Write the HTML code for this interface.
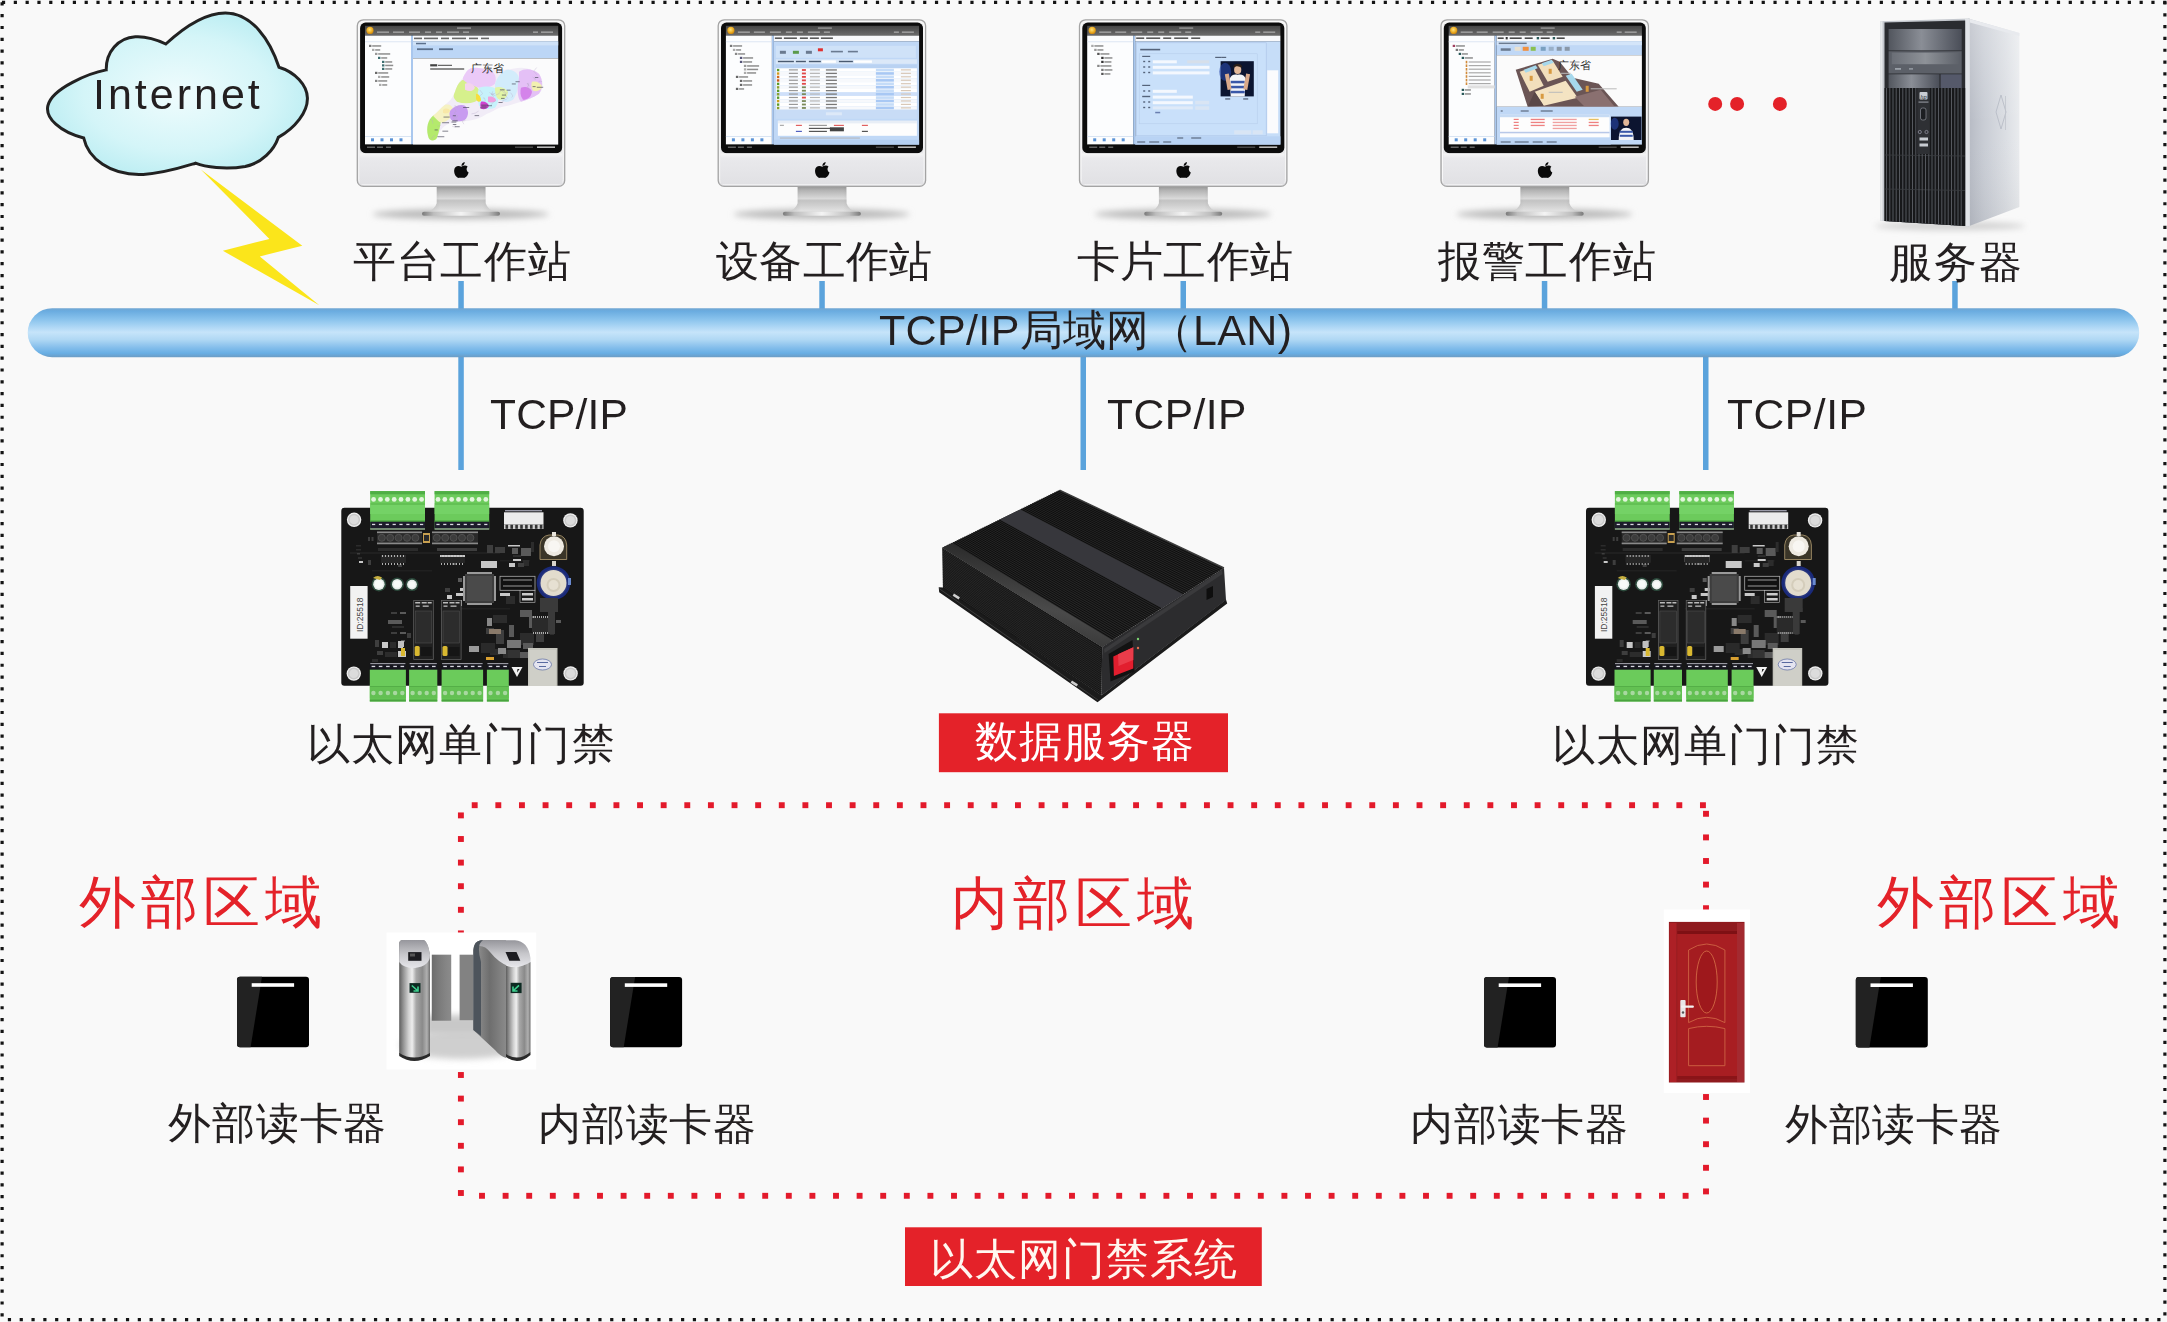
<!DOCTYPE html>
<html><head><meta charset="utf-8">
<style>
html,body{margin:0;padding:0;}
body{width:2167px;height:1322px;overflow:hidden;background:#f9f9f9;position:relative;font-family:"Liberation Sans",sans-serif;color:#231f20;}
svg.main{position:absolute;left:0;top:0;}
.t{position:absolute;white-space:nowrap;line-height:1;will-change:transform;}
.lb{font-size:43px;}
.tcp{font-size:42.5px;letter-spacing:0.2px;}
.red{color:#e42229;font-size:57px;letter-spacing:4.9px;}
</style></head>
<body>
<svg class="main" width="2167" height="1322" viewBox="0 0 2167 1322">
<defs>
  <linearGradient id="lan" x1="0" y1="0" x2="0" y2="1">
    <stop offset="0" stop-color="#72a6d2"/>
    <stop offset="0.06" stop-color="#6aace0"/>
    <stop offset="0.22" stop-color="#88c2ec"/>
    <stop offset="0.36" stop-color="#a8d4f4"/>
    <stop offset="0.49" stop-color="#c6e4fa"/>
    <stop offset="0.64" stop-color="#b0d8f4"/>
    <stop offset="0.79" stop-color="#88c0ec"/>
    <stop offset="0.92" stop-color="#68aee4"/>
    <stop offset="1" stop-color="#6c9cc4"/>
  </linearGradient>
  <radialGradient id="cloudg" cx="0.5" cy="0.5" r="0.6">
    <stop offset="0" stop-color="#effcfd"/>
    <stop offset="0.6" stop-color="#d4f5f8"/>
    <stop offset="1" stop-color="#b4ebf1"/>
  </radialGradient>
  <linearGradient id="titleg" x1="0" y1="0" x2="0" y2="1"><stop offset="0" stop-color="#454545"/><stop offset="1" stop-color="#6c6c6c"/></linearGradient>
  <radialGradient id="orb" cx="0.45" cy="0.4" r="0.6"><stop offset="0" stop-color="#ffe27a"/><stop offset="0.7" stop-color="#e9a71c"/><stop offset="1" stop-color="#c98412"/></radialGradient>
  <linearGradient id="framev" x1="0" y1="0" x2="0" y2="1"><stop offset="0" stop-color="#f3f3f3"/><stop offset="0.8" stop-color="#e6e6e8"/><stop offset="1" stop-color="#dedee1"/></linearGradient>
  <linearGradient id="chin" x1="0" y1="0" x2="0" y2="1"><stop offset="0" stop-color="#f6f6f6"/><stop offset="0.15" stop-color="#e9e9ec"/><stop offset="1" stop-color="#e1e1e4"/></linearGradient>
  <linearGradient id="neck" x1="0" y1="0" x2="0" y2="1"><stop offset="0" stop-color="#8e8e8e"/><stop offset="0.2" stop-color="#b4b4b4"/><stop offset="0.5" stop-color="#d9d9d9"/><stop offset="0.58" stop-color="#c3c3c3"/><stop offset="0.75" stop-color="#cfcfcf"/><stop offset="1" stop-color="#e4e4e4"/></linearGradient>
  <linearGradient id="neckh" x1="0" y1="0" x2="1" y2="0"><stop offset="0" stop-color="#000" stop-opacity="0.12"/><stop offset="0.2" stop-color="#000" stop-opacity="0"/><stop offset="0.8" stop-color="#000" stop-opacity="0"/><stop offset="1" stop-color="#000" stop-opacity="0.12"/></linearGradient>
  <linearGradient id="base" x1="0" y1="0" x2="1" y2="0"><stop offset="0" stop-color="#7a7a7a"/><stop offset="0.15" stop-color="#bdbdbd"/><stop offset="0.5" stop-color="#f4f4f4"/><stop offset="0.85" stop-color="#bdbdbd"/><stop offset="1" stop-color="#7a7a7a"/></linearGradient>
  <filter id="blur3" x="-20%" y="-100%" width="140%" height="300%"><feGaussianBlur stdDeviation="3"/></filter>
  <filter id="blur1" x="-20%" y="-20%" width="140%" height="140%"><feGaussianBlur stdDeviation="1"/></filter>
  <symbol id="imac" overflow="visible">
    <ellipse cx="104" cy="195" rx="88" ry="5" fill="#b9b9b9" filter="url(#blur3)"/>
    <path d="M80,166 L128.8,166 L129,184 Q131,191 139.5,192.6 L69.5,192.6 Q78,191 80,184 Z" fill="url(#neck)"/>
    <path d="M80,166 L128.8,166 L129,184 Q131,191 139.5,192.6 L69.5,192.6 Q78,191 80,184 Z" fill="url(#neckh)"/>
    <rect x="65.3" y="192.6" width="78" height="4" rx="2" fill="url(#base)"/>
    <rect x="0.6" y="0.6" width="207.4" height="166.6" rx="6" fill="url(#framev)" stroke="#a4a4a4" stroke-width="1.3"/>
    <rect x="2.2" y="2.2" width="204.2" height="163.2" rx="5" fill="none" stroke="#fbfbfb" stroke-width="1"/>
    <rect x="3.4" y="3.4" width="202" height="130.6" rx="5.5" fill="#0c0c0c"/>
    <rect x="3" y="134.2" width="202.6" height="31" fill="url(#chin)"/>
    <path transform="translate(104.6,151) scale(1.05)" d="M0,-3.2 C-2,-4.8 -6.4,-4.6 -6.8,0 C-7.1,4.2 -4.2,7.6 -2.2,7.3 C-1,7.1 1,7.1 2.2,7.3 C4.2,7.6 6.6,4.6 6.9,2 C5,1.2 4.4,-2 6.1,-3.3 C4.5,-5 2,-4.6 0,-3.2 Z M0.2,-4 C0,-6 1.6,-7.6 3.3,-7.8 C3.3,-5.8 1.9,-4.3 0.2,-4 Z" fill="#0a0a0a"/>
  </symbol>
  <linearGradient id="boxedge" x1="0" y1="1" x2="0.3" y2="0"><stop offset="0" stop-color="#2a2a2a"/><stop offset="0.5" stop-color="#4a4a4a"/><stop offset="1" stop-color="#262626"/></linearGradient>
  <linearGradient id="towerside" x1="0" y1="0" x2="1" y2="0"><stop offset="0" stop-color="#b6bac3"/><stop offset="0.3" stop-color="#c8ccd4"/><stop offset="0.75" stop-color="#dcdfe4"/><stop offset="1" stop-color="#e9ebee"/></linearGradient><linearGradient id="towersidev" x1="0" y1="0" x2="0" y2="1"><stop offset="0" stop-color="#fff" stop-opacity="0.25"/><stop offset="0.5" stop-color="#fff" stop-opacity="0"/><stop offset="1" stop-color="#000" stop-opacity="0.05"/></linearGradient>
  <linearGradient id="bay" x1="0" y1="0" x2="1" y2="0"><stop offset="0" stop-color="#52565e"/><stop offset="0.45" stop-color="#8a8e96"/><stop offset="1" stop-color="#4a4e58"/></linearGradient>
  <linearGradient id="bay2" x1="0" y1="0" x2="1" y2="0"><stop offset="0" stop-color="#6a6e76"/><stop offset="0.5" stop-color="#8e9298"/><stop offset="1" stop-color="#5e626a"/></linearGradient>
  <linearGradient id="cyl" x1="0" y1="0" x2="1" y2="0"><stop offset="0" stop-color="#5e5e5e"/><stop offset="0.12" stop-color="#8e8e8e"/><stop offset="0.3" stop-color="#cfcfcf"/><stop offset="0.42" stop-color="#eeeeee"/><stop offset="0.55" stop-color="#a8a8a8"/><stop offset="0.75" stop-color="#8a8a8a"/><stop offset="0.9" stop-color="#b0b0b0"/><stop offset="1" stop-color="#6e6e6e"/></linearGradient>
  <linearGradient id="pillarR" x1="0" y1="0" x2="1" y2="0"><stop offset="0" stop-color="#9a9a9a"/><stop offset="0.3" stop-color="#7e7e7e"/><stop offset="0.5" stop-color="#6e6e6e"/><stop offset="1" stop-color="#8a8a8a"/></linearGradient>
  <linearGradient id="capg" x1="0" y1="0" x2="0" y2="1"><stop offset="0" stop-color="#96969c"/><stop offset="0.5" stop-color="#c6c6ca"/><stop offset="1" stop-color="#e6e6ea"/></linearGradient>
  <linearGradient id="flapg" x1="0" y1="0" x2="1" y2="0"><stop offset="0" stop-color="#000" stop-opacity="0.15"/><stop offset="1" stop-color="#fff" stop-opacity="0.1"/></linearGradient>
</defs>
<!-- outer dotted border -->
<g stroke="#141414" stroke-width="3.2" stroke-dasharray="3.2 8.61">
<line x1="1.95" y1="2.4" x2="2167" y2="2.4"/>
<line x1="7.85" y1="1319.6" x2="2167" y2="1319.6"/>
<line x1="2.1" y1="2.3" x2="2.1" y2="1322"/>
<line x1="2164.9" y1="1.4" x2="2164.9" y2="1322"/>
</g>

<!-- cloud -->
<path d="M106.2,69.9 C90,73 52,88 47.9,105.6 C45,118 60,132 83.7,138 C88,158 110,176 143.3,174.4 C165,173 183,167 195.5,163.2 C205,167 225,170 245.2,166.5 C262,163 274,150 278.3,137.4 C295,128 308,112 307.4,97.7 C307,85 295,72 279,67.2 C270,40 252,13 225.3,12.9 C205,13 183,28 165.8,44 C158,40 145,36 135.3,36.8 C118,38 106,52 106.2,69.9 Z" fill="url(#cloudg)" stroke="#222" stroke-width="3"/>

<!-- lightning -->
<polygon points="200.8,169.6 302.3,245.7 259.8,256.4 319.3,305.2 222.9,250.8 269.4,238.9" fill="#fbe51b"/>

<!-- connectors top -->
<g fill="#5ba3dc">
  <rect x="458.3" y="281" width="5.5" height="30"/>
  <rect x="819.3" y="281" width="5.5" height="30"/>
  <rect x="1180.5" y="281" width="5.5" height="30"/>
  <rect x="1541.8" y="281" width="5.5" height="30"/>
  <rect x="1952.2" y="281" width="5.5" height="30"/>
  <rect x="458.3" y="352" width="5.5" height="118"/>
  <rect x="1080.5" y="352" width="5.5" height="118"/>
  <rect x="1703" y="352" width="5.5" height="118"/>
</g>
<!-- LAN bar -->
<rect x="27.7" y="308.2" width="2111.5" height="49" rx="24.5" fill="url(#lan)"/>

<!-- monitors -->
<g transform="translate(356.7,19.2)"><use href="#imac"/><g transform="translate(8.3,6.6)"><rect x="0" y="0" width="193.2" height="9.8" fill="url(#titleg)"/>
<circle cx="5" cy="4.6" r="3.6" fill="url(#orb)"/>
<g fill="#a9a9a9" opacity="0.8"><rect x="12" y="5.6" width="12" height="1.6"/><rect x="28" y="5.6" width="11" height="1.6"/><rect x="44" y="5.6" width="11" height="1.6"/><rect x="60" y="5.6" width="6" height="1.6"/><rect x="71" y="5.6" width="6" height="1.6"/><rect x="82" y="5.6" width="12" height="1.6"/><rect x="98" y="5.6" width="6" height="1.6"/><rect x="168" y="5.6" width="5" height="1.6"/><rect x="176" y="5.6" width="12" height="1.6"/><rect x="92" y="1.6" width="14" height="1.4"/></g>
<rect x="0" y="9.8" width="46" height="109" fill="#fcfdfe"/>
<rect x="0" y="15.6" width="46" height="0.8" fill="#d6e2f0"/>
<rect x="46" y="9.8" width="2" height="109" fill="#a9c7ee"/>
<rect x="0" y="110.2" width="46" height="0.7" fill="#c9d9ee"/>
<g fill="#5b93d6"><rect x="6" y="112.5" width="3" height="3"/><rect x="15.5" y="112.5" width="3" height="3"/><rect x="25" y="112.5" width="3" height="3"/><rect x="34.5" y="112.5" width="3" height="3"/></g>
<rect x="0" y="118.8" width="193.2" height="5.8" fill="#0b0b0b"/>
<g fill="#777"><rect x="2" y="120.8" width="8" height="1.2"/><rect x="12" y="120.8" width="6" height="1.2"/><rect x="21" y="120.8" width="5" height="1.2"/><rect x="150" y="120.8" width="18" height="1.2" fill="#555"/><rect x="172" y="120.6" width="18" height="1.6" fill="#bbb"/></g>
<rect x="4" y="19" width="2.4" height="2.2" fill="#777"/><rect x="7.2" y="19.4" width="9" height="1.5" fill="#8e8e8e"/><rect x="7" y="23" width="2.4" height="2.2" fill="#aaa"/><rect x="10.2" y="23.4" width="5" height="1.5" fill="#8e8e8e"/><rect x="10" y="27" width="2.4" height="2.2" fill="#999"/><rect x="13.2" y="27.4" width="12" height="1.5" fill="#8e8e8e"/><rect x="13" y="31" width="2.4" height="2.2" fill="#3c6e70"/><rect x="16.2" y="31.4" width="6" height="1.5" fill="#8e8e8e"/><rect x="17" y="35" width="2.4" height="2.2" fill="#3c6e70"/><rect x="20.2" y="35.4" width="7" height="1.5" fill="#8e8e8e"/><rect x="17" y="38.5" width="2.4" height="2.2" fill="#3c6e70"/><rect x="20.2" y="38.9" width="8" height="1.5" fill="#8e8e8e"/><rect x="17" y="42" width="2.4" height="2.2" fill="#3c6e70"/><rect x="20.2" y="42.4" width="7" height="1.5" fill="#8e8e8e"/><rect x="10" y="46" width="2.4" height="2.2" fill="#6a6a6a"/><rect x="13.2" y="46.4" width="10" height="1.5" fill="#8e8e8e"/><rect x="13" y="50" width="2.4" height="2.2" fill="#aaa"/><rect x="16.2" y="50.4" width="8" height="1.5" fill="#8e8e8e"/><rect x="10" y="54" width="2.4" height="2.2" fill="#888"/><rect x="13.2" y="54.4" width="9" height="1.5" fill="#8e8e8e"/><rect x="14" y="58" width="2.4" height="2.2" fill="#aaa"/><rect x="17.2" y="58.4" width="5" height="1.5" fill="#8e8e8e"/><rect x="48" y="9.8" width="145.2" height="5.8" fill="#f8f9fb"/>
<g fill="#6a6a6a"><rect x="49" y="11.8" width="8" height="1.6"/><rect x="59" y="11.8" width="14" height="1.6"/><rect x="76" y="11.8" width="8" height="1.6"/><rect x="87" y="11.8" width="14" height="1.6"/><rect x="104" y="11.8" width="9" height="1.6"/><rect x="116" y="11.8" width="8" height="1.6"/></g>
<rect x="48" y="15.6" width="145.2" height="17" fill="#bcd6f6"/>
<rect x="48" y="15.6" width="145.2" height="4" fill="#cfe2f8"/>
<g fill="#5b6f8c"><rect x="51" y="17" width="10" height="1.5"/><rect x="52" y="22.5" width="16" height="1.8"/><rect x="74" y="22.5" width="14" height="1.8"/></g>
<rect x="48" y="32.6" width="145.2" height="86.2" fill="#fbfbfc"/>
<g fill="#444"><rect x="65.2" y="38.4" width="7" height="2.2"/><rect x="73" y="39" width="14" height="1"/><rect x="65.2" y="42.6" width="34" height="1.2"/></g>
<path d="M63,110 C61,102 63,94 68,90 C72,87 76,82 80,79 C84,76 88,72 90,66 C92,60 94,56 98,52 C100,48 102,44 106,42.5 C112,41 118,43 124,44 C130,44 134,43 140,44 C146,44 150,42 156,42 C164,42 172,46 176,52 C179,58 178,64 174,68 C168,72 162,74 156,76 C150,78 144,80 138,81 C132,82 128,86 122,88 C116,92 110,94 104,95 C96,96 90,96 84,98 C78,100 74,106 72,112 C70,116 64,116 63,110 Z" fill="#f1ecf7"/>
<path d="M63,110 C61,102 63,94 68,90 C72,88 75,88 76,92 C76,98 74,106 72,112 C70,116 64,116 63,110 Z" fill="#b4ea6c"/><path d="M68,90 C72,87 76,82 80,79 C84,78 88,80 88,84 C88,90 84,94 80,96 C76,98 74,96 72,94 Z" fill="#f6f2c2"/><path d="M86,84 C90,80 96,78 100,80 C104,84 104,90 100,94 C96,96 90,96 86,94 C84,90 84,86 86,84 Z" fill="#c89cf0"/><path d="M90,66 C92,60 94,56 98,54 C104,54 110,58 114,64 C116,70 114,74 110,76 C104,78 98,78 92,76 C88,72 88,70 90,66 Z" fill="#d6f08c"/><path d="M98,52 C100,48 102,44 106,42.5 C112,41 118,43 124,44 C130,46 132,52 130,58 C126,62 120,62 114,62 C108,60 102,58 98,54 Z" fill="#ebcaf8"/><path d="M114,62 C120,60 128,60 132,64 C134,70 134,78 130,82 C124,84 118,84 114,80 C112,74 112,68 114,62 Z" fill="#c6f2fb"/><path d="M130,58 C132,52 136,46 142,44 C148,44 152,46 154,52 C154,60 152,68 148,74 C142,78 136,76 132,72 C130,66 130,62 130,58 Z" fill="#d2ecfb"/><path d="M130,62 C134,60 140,62 143,66 C143,70 140,74 136,74 C132,74 130,70 130,62 Z" fill="#e2f5a6"/><path d="M154,46 C160,42 168,43 174,48 C178,54 178,62 174,68 C168,72 162,74 156,76 C152,72 152,62 154,52 Z" fill="#e4c0f6"/><path d="M156,62 C160,60 166,62 167,66 C166,72 162,74 158,74 C155,70 155,66 156,62 Z" fill="#d483ea"/><path d="M167,56 C171,55 176,57 177,61 C176,65 172,66 168,65 C166,62 166,58 167,56 Z" fill="#f2f0b0"/><path d="M116,76 C119,75 123,77 124,80 C123,83 119,84 116,83 C115,81 115,78 116,76 Z" fill="#d042cf"/><path d="M123,71 C127,70 131,72 131,75 C129,77 125,77 123,76 Z" fill="#f0a2e0"/><path d="M111,68 C114,68 116,71 116,75 C114,77 112,76 111,73 Z" fill="#f6de3c"/><path d="M100,58 C104,56 108,58 110,62 C108,66 104,66 100,64 Z" fill="#f4d4ee"/><path d="M78,84 C80,82 84,82 85,85 C84,88 80,88 78,87 Z" fill="#f8e8a8"/>
<path d="M89.0,87.4 l3.8,2.4 l-1.6,3.1" stroke="#b8a8c8" stroke-width="0.35" fill="none"/><path d="M88.8,89.7 l2.8,1.1 l-3.2,3.9" stroke="#b8a8c8" stroke-width="0.35" fill="none"/><path d="M89.0,87.1 l2.2,-1.4 l-1.6,-3.4" stroke="#b8a8c8" stroke-width="0.35" fill="none"/><path d="M75.7,99.6 l-2.1,0.8 l-1.0,-0.4" stroke="#b8a8c8" stroke-width="0.35" fill="none"/><path d="M169.6,50.9 l0.6,2.9 l-2.5,-2.8" stroke="#b8a8c8" stroke-width="0.35" fill="none"/><path d="M164.1,59.7 l-2.0,-2.5 l1.9,3.5" stroke="#b8a8c8" stroke-width="0.35" fill="none"/><path d="M87.2,100.5 l3.1,0.8 l-0.6,-3.2" stroke="#b8a8c8" stroke-width="0.35" fill="none"/><path d="M70.2,109.2 l-2.1,1.6 l-1.9,2.6" stroke="#b8a8c8" stroke-width="0.35" fill="none"/><path d="M130.4,67.1 l-2.6,1.8 l-3.4,-2.2" stroke="#b8a8c8" stroke-width="0.35" fill="none"/><path d="M126.4,79.1 l0.9,-1.8 l3.3,-2.4" stroke="#b8a8c8" stroke-width="0.35" fill="none"/><path d="M67.8,98.0 l-0.4,-3.5 l-2.6,-1.0" stroke="#b8a8c8" stroke-width="0.35" fill="none"/><path d="M127.8,65.5 l-1.1,3.1 l3.8,1.3" stroke="#b8a8c8" stroke-width="0.35" fill="none"/><path d="M140.7,67.2 l-2.9,-3.7 l-3.9,3.3" stroke="#b8a8c8" stroke-width="0.35" fill="none"/><path d="M141.7,73.5 l-3.8,1.1 l-0.1,1.8" stroke="#b8a8c8" stroke-width="0.35" fill="none"/><path d="M100.4,94.8 l-3.4,0.4 l1.9,3.2" stroke="#b8a8c8" stroke-width="0.35" fill="none"/><path d="M145.6,66.9 l2.3,3.3 l-1.2,1.5" stroke="#b8a8c8" stroke-width="0.35" fill="none"/><path d="M163.3,61.0 l-0.7,2.3 l2.9,0.6" stroke="#b8a8c8" stroke-width="0.35" fill="none"/><path d="M133.5,67.1 l0.7,0.9 l-3.4,1.1" stroke="#b8a8c8" stroke-width="0.35" fill="none"/><path d="M173.3,56.2 l1.8,-0.9 l1.9,0.6" stroke="#b8a8c8" stroke-width="0.35" fill="none"/><path d="M113.6,85.3 l-3.3,2.0 l-3.8,0.8" stroke="#b8a8c8" stroke-width="0.35" fill="none"/><path d="M117.9,72.2 l1.6,-0.0 l0.9,3.4" stroke="#b8a8c8" stroke-width="0.35" fill="none"/><path d="M93.6,80.4 l-1.6,1.4 l-2.4,-2.6" stroke="#b8a8c8" stroke-width="0.35" fill="none"/><path d="M163.8,57.0 l-0.5,3.1 l-1.4,1.3" stroke="#b8a8c8" stroke-width="0.35" fill="none"/><path d="M87.4,91.0 l2.4,3.3 l3.0,-0.9" stroke="#b8a8c8" stroke-width="0.35" fill="none"/><path d="M129.0,68.2 l-2.9,-0.0 l2.7,2.8" stroke="#b8a8c8" stroke-width="0.35" fill="none"/><path d="M142.8,72.7 l-1.8,-2.6 l-0.4,-1.8" stroke="#b8a8c8" stroke-width="0.35" fill="none"/><path d="M89.1,89.9 l1.0,-0.0 l-1.5,2.7" stroke="#b8a8c8" stroke-width="0.35" fill="none"/><path d="M172.1,49.1 l-3.4,-3.7 l3.0,-3.7" stroke="#b8a8c8" stroke-width="0.35" fill="none"/><path d="M142.5,66.0 l-1.5,2.3 l-3.8,-2.9" stroke="#b8a8c8" stroke-width="0.35" fill="none"/><path d="M115.1,69.9 l2.6,-2.1 l-2.9,-3.6" stroke="#b8a8c8" stroke-width="0.35" fill="none"/>
<rect x="115.0" y="81.6" width="6.7" height="0.9" fill="#4a4a5a" opacity="0.75"/><rect x="116.4" y="79.9" width="5.3" height="0.9" fill="#4a4a5a" opacity="0.75"/><rect x="87.2" y="94.6" width="5.5" height="0.9" fill="#4a4a5a" opacity="0.75"/><rect x="150.5" y="55.5" width="4.2" height="0.9" fill="#4a4a5a" opacity="0.75"/><rect x="77.4" y="104.9" width="5.8" height="0.9" fill="#4a4a5a" opacity="0.75"/><rect x="72.4" y="110.5" width="6.9" height="0.9" fill="#4a4a5a" opacity="0.75"/><rect x="136.0" y="72.1" width="3.6" height="0.9" fill="#4a4a5a" opacity="0.75"/><rect x="69.6" y="103.7" width="3.2" height="0.9" fill="#4a4a5a" opacity="0.75"/><rect x="87.8" y="89.5" width="3.1" height="0.9" fill="#4a4a5a" opacity="0.75"/><rect x="116.2" y="78.8" width="6.4" height="0.9" fill="#4a4a5a" opacity="0.75"/><rect x="122.0" y="79.5" width="5.0" height="0.9" fill="#4a4a5a" opacity="0.75"/><rect x="136.9" y="68.8" width="4.1" height="0.9" fill="#4a4a5a" opacity="0.75"/><rect x="171.8" y="61.0" width="6.4" height="0.9" fill="#4a4a5a" opacity="0.75"/><rect x="141.6" y="63.9" width="3.9" height="0.9" fill="#4a4a5a" opacity="0.75"/><rect x="98.1" y="81.2" width="6.1" height="0.9" fill="#4a4a5a" opacity="0.75"/><rect x="109.6" y="89.4" width="4.5" height="0.9" fill="#4a4a5a" opacity="0.75"/><rect x="167.6" y="60.4" width="3.0" height="0.9" fill="#4a4a5a" opacity="0.75"/><rect x="89.8" y="100.5" width="4.9" height="0.9" fill="#4a4a5a" opacity="0.75"/><rect x="170.0" y="51.2" width="3.3" height="0.9" fill="#4a4a5a" opacity="0.75"/><rect x="133.5" y="76.3" width="4.1" height="0.9" fill="#4a4a5a" opacity="0.75"/><rect x="77.1" y="96.5" width="6.9" height="0.9" fill="#4a4a5a" opacity="0.75"/><rect x="146.8" y="57.7" width="4.0" height="0.9" fill="#4a4a5a" opacity="0.75"/><rect x="78.5" y="90.8" width="6.2" height="0.9" fill="#4a4a5a" opacity="0.75"/><rect x="86.5" y="95.8" width="4.8" height="0.9" fill="#4a4a5a" opacity="0.75"/><rect x="87.8" y="98.3" width="3.5" height="0.9" fill="#4a4a5a" opacity="0.75"/><rect x="134.9" y="63.6" width="4.7" height="0.9" fill="#4a4a5a" opacity="0.75"/>
<text x="106" y="46.3" font-size="11.2" fill="#2a2a2a" font-family="Liberation Serif,serif">广东省</text></g></g>
<g transform="translate(717.6,19.2)"><use href="#imac"/><g transform="translate(8.3,6.6)"><rect x="0" y="0" width="193.2" height="9.8" fill="url(#titleg)"/>
<circle cx="5" cy="4.6" r="3.6" fill="url(#orb)"/>
<g fill="#a9a9a9" opacity="0.8"><rect x="12" y="5.6" width="12" height="1.6"/><rect x="28" y="5.6" width="11" height="1.6"/><rect x="44" y="5.6" width="11" height="1.6"/><rect x="60" y="5.6" width="6" height="1.6"/><rect x="71" y="5.6" width="6" height="1.6"/><rect x="82" y="5.6" width="12" height="1.6"/><rect x="98" y="5.6" width="6" height="1.6"/><rect x="168" y="5.6" width="5" height="1.6"/><rect x="176" y="5.6" width="12" height="1.6"/><rect x="92" y="1.6" width="14" height="1.4"/></g>
<rect x="0" y="9.8" width="46" height="109" fill="#fcfdfe"/>
<rect x="0" y="15.6" width="46" height="0.8" fill="#d6e2f0"/>
<rect x="46" y="9.8" width="2" height="109" fill="#a9c7ee"/>
<rect x="0" y="110.2" width="46" height="0.7" fill="#c9d9ee"/>
<g fill="#5b93d6"><rect x="6" y="112.5" width="3" height="3"/><rect x="15.5" y="112.5" width="3" height="3"/><rect x="25" y="112.5" width="3" height="3"/><rect x="34.5" y="112.5" width="3" height="3"/></g>
<rect x="0" y="118.8" width="193.2" height="5.8" fill="#0b0b0b"/>
<g fill="#777"><rect x="2" y="120.8" width="8" height="1.2"/><rect x="12" y="120.8" width="6" height="1.2"/><rect x="21" y="120.8" width="5" height="1.2"/><rect x="150" y="120.8" width="18" height="1.2" fill="#555"/><rect x="172" y="120.6" width="18" height="1.6" fill="#bbb"/></g>
<rect x="4" y="19" width="2.4" height="2.2" fill="#777"/><rect x="7.2" y="19.4" width="9" height="1.5" fill="#8e8e8e"/><rect x="7" y="23" width="2.4" height="2.2" fill="#aaa"/><rect x="10.2" y="23.4" width="5" height="1.5" fill="#8e8e8e"/><rect x="9" y="27" width="2.4" height="2.2" fill="#888"/><rect x="12.2" y="27.4" width="7" height="1.5" fill="#8e8e8e"/><rect x="14" y="31" width="2.4" height="2.2" fill="#557"/><rect x="17.2" y="31.4" width="10" height="1.5" fill="#8e8e8e"/><rect x="14" y="35" width="2.4" height="2.2" fill="#557"/><rect x="17.2" y="35.4" width="9" height="1.5" fill="#8e8e8e"/><rect x="18" y="39" width="2.4" height="2.2" fill="#999"/><rect x="21.2" y="39.4" width="12" height="1.5" fill="#8e8e8e"/><rect x="18" y="42.5" width="2.4" height="2.2" fill="#aaa"/><rect x="21.2" y="42.9" width="11" height="1.5" fill="#8e8e8e"/><rect x="18" y="46" width="2.4" height="2.2" fill="#aaa"/><rect x="21.2" y="46.4" width="9" height="1.5" fill="#8e8e8e"/><rect x="10" y="50" width="2.4" height="2.2" fill="#666"/><rect x="13.2" y="50.4" width="9" height="1.5" fill="#8e8e8e"/><rect x="14" y="54" width="2.4" height="2.2" fill="#666"/><rect x="17.2" y="54.4" width="9" height="1.5" fill="#8e8e8e"/><rect x="14" y="58" width="2.4" height="2.2" fill="#666"/><rect x="17.2" y="58.4" width="9" height="1.5" fill="#8e8e8e"/><rect x="10" y="62" width="2.4" height="2.2" fill="#666"/><rect x="13.2" y="62.4" width="5" height="1.5" fill="#8e8e8e"/><rect x="48" y="9.8" width="145.2" height="5.6" fill="#f8f9fb"/>
<g fill="#5a5a5a"><rect x="49" y="11.6" width="7" height="1.6"/><rect x="58" y="11.6" width="13" height="1.6"/><rect x="74" y="11.6" width="8" height="1.6"/><rect x="84" y="11.6" width="9" height="1.6"/><rect x="95" y="11.6" width="12" height="1.6"/></g>
<rect x="48" y="15.4" width="145.2" height="103.4" fill="#c0d8f6"/>
<rect x="50" y="20" width="140" height="12" fill="#cfe2f8"/>
<g fill="#6a7a90"><rect x="54" y="25" width="6" height="3"/><rect x="67" y="25" width="6" height="3" fill="#5a9a4a"/><rect x="80" y="25" width="6" height="3"/><rect x="92" y="22.5" width="5" height="3" fill="#e03030"/><rect x="105" y="25" width="12" height="1.6"/><rect x="122" y="25" width="10" height="1.6"/></g>
<rect x="50" y="33.5" width="141" height="4.5" fill="#dbe8f8"/>
<g fill="#4a5a70"><rect x="52" y="35" width="16" height="1.4"/><rect x="70" y="35" width="10" height="1.4"/><rect x="83" y="35" width="12" height="1.4"/><rect x="113" y="35" width="14" height="1.4"/></g>
<g fill="#fff"><rect x="96" y="34.6" width="14" height="2.4"/><rect x="128" y="34.6" width="18" height="2.4"/></g>
<rect x="50" y="39" width="141" height="3.5" fill="#b9d2f2"/>
<rect x="50" y="42.50" width="141" height="3.45" fill="#ffffff"/><rect x="51" y="43.10" width="2.4" height="2.4" fill="#5a9a2a"/><rect x="63" y="43.50" width="9" height="1.2" fill="#999"/><rect x="76" y="43.30" width="4" height="1.8" fill="#e04848"/><rect x="84" y="43.50" width="10" height="1.2" fill="#b5b5b5"/><rect x="100" y="43.50" width="11" height="1.3" fill="#777"/><rect x="150" y="42.90" width="18" height="2.6" fill="#c5dcf8"/><rect x="175" y="43.50" width="10" height="1.2" fill="#d8c8b8"/><rect x="50" y="45.95" width="141" height="3.45" fill="#f7f9fc"/><rect x="51" y="46.55" width="2.4" height="2.4" fill="#d39a1c"/><rect x="63" y="46.95" width="9" height="1.2" fill="#999"/><rect x="76" y="46.75" width="4" height="1.8" fill="#e04848"/><rect x="84" y="46.95" width="10" height="1.2" fill="#b5b5b5"/><rect x="100" y="46.95" width="11" height="1.3" fill="#777"/><rect x="150" y="46.35" width="18" height="2.6" fill="#a8c8f4"/><rect x="175" y="46.95" width="10" height="1.2" fill="#d8c8b8"/><rect x="50" y="49.40" width="141" height="3.45" fill="#ffffff"/><rect x="51" y="50.00" width="2.4" height="2.4" fill="#d36a1c"/><rect x="63" y="50.40" width="9" height="1.2" fill="#999"/><rect x="76" y="50.20" width="4" height="1.8" fill="#e04848"/><rect x="84" y="50.40" width="10" height="1.2" fill="#b5b5b5"/><rect x="100" y="50.40" width="11" height="1.3" fill="#777"/><rect x="150" y="49.80" width="18" height="2.6" fill="#c5dcf8"/><rect x="175" y="50.40" width="10" height="1.2" fill="#d8c8b8"/><rect x="50" y="52.85" width="141" height="3.45" fill="#f7f9fc"/><rect x="51" y="53.45" width="2.4" height="2.4" fill="#c8581c"/><rect x="63" y="53.85" width="9" height="1.2" fill="#999"/><rect x="76" y="53.65" width="4" height="1.8" fill="#e04848"/><rect x="84" y="53.85" width="10" height="1.2" fill="#b5b5b5"/><rect x="100" y="53.85" width="11" height="1.3" fill="#777"/><rect x="150" y="53.25" width="18" height="2.6" fill="#a8c8f4"/><rect x="175" y="53.85" width="10" height="1.2" fill="#d8c8b8"/><rect x="50" y="56.30" width="141" height="3.45" fill="#ffffff"/><rect x="51" y="56.90" width="2.4" height="2.4" fill="#5a9a2a"/><rect x="63" y="57.30" width="9" height="1.2" fill="#999"/><rect x="76" y="57.10" width="4" height="1.8" fill="#e04848"/><rect x="84" y="57.30" width="10" height="1.2" fill="#b5b5b5"/><rect x="100" y="57.30" width="11" height="1.3" fill="#777"/><rect x="150" y="56.70" width="18" height="2.6" fill="#c5dcf8"/><rect x="175" y="57.30" width="10" height="1.2" fill="#d8c8b8"/><rect x="50" y="59.75" width="141" height="3.45" fill="#f7f9fc"/><rect x="51" y="60.35" width="2.4" height="2.4" fill="#8aa02a"/><rect x="63" y="60.75" width="9" height="1.2" fill="#999"/><rect x="76" y="60.55" width="4" height="1.8" fill="#7a8a5a"/><rect x="84" y="60.75" width="10" height="1.2" fill="#b5b5b5"/><rect x="100" y="60.75" width="11" height="1.3" fill="#777"/><rect x="150" y="60.15" width="18" height="2.6" fill="#a8c8f4"/><rect x="175" y="60.75" width="10" height="1.2" fill="#d8c8b8"/><rect x="50" y="63.20" width="141" height="3.45" fill="#ffffff"/><rect x="51" y="63.80" width="2.4" height="2.4" fill="#5a9a2a"/><rect x="63" y="64.20" width="9" height="1.2" fill="#999"/><rect x="76" y="64.00" width="4" height="1.8" fill="#7a8a5a"/><rect x="84" y="64.20" width="10" height="1.2" fill="#b5b5b5"/><rect x="100" y="64.20" width="11" height="1.3" fill="#777"/><rect x="150" y="63.60" width="18" height="2.6" fill="#c5dcf8"/><rect x="175" y="64.20" width="10" height="1.2" fill="#d8c8b8"/><rect x="50" y="66.65" width="141" height="3.45" fill="#cfe0fa"/><rect x="51" y="67.25" width="2.4" height="2.4" fill="#8aa02a"/><rect x="63" y="67.65" width="9" height="1.2" fill="#999"/><rect x="76" y="67.45" width="4" height="1.8" fill="#7a8a5a"/><rect x="84" y="67.65" width="10" height="1.2" fill="#b5b5b5"/><rect x="100" y="67.65" width="11" height="1.3" fill="#777"/><rect x="150" y="67.05" width="18" height="2.6" fill="#a8c8f4"/><rect x="175" y="67.65" width="10" height="1.2" fill="#d8c8b8"/><rect x="50" y="70.10" width="141" height="3.45" fill="#ffffff"/><rect x="51" y="70.70" width="2.4" height="2.4" fill="#5a9a2a"/><rect x="63" y="71.10" width="9" height="1.2" fill="#999"/><rect x="76" y="70.90" width="4" height="1.8" fill="#e04848"/><rect x="84" y="71.10" width="10" height="1.2" fill="#b5b5b5"/><rect x="100" y="71.10" width="11" height="1.3" fill="#777"/><rect x="150" y="70.50" width="18" height="2.6" fill="#c5dcf8"/><rect x="175" y="71.10" width="10" height="1.2" fill="#d8c8b8"/><rect x="50" y="73.55" width="141" height="3.45" fill="#f7f9fc"/><rect x="51" y="74.15" width="2.4" height="2.4" fill="#c8a01c"/><rect x="63" y="74.55" width="9" height="1.2" fill="#999"/><rect x="76" y="74.35" width="4" height="1.8" fill="#7a8a5a"/><rect x="84" y="74.55" width="10" height="1.2" fill="#b5b5b5"/><rect x="100" y="74.55" width="11" height="1.3" fill="#777"/><rect x="150" y="73.95" width="18" height="2.6" fill="#a8c8f4"/><rect x="175" y="74.55" width="10" height="1.2" fill="#d8c8b8"/><rect x="50" y="77.00" width="141" height="3.45" fill="#ffffff"/><rect x="51" y="77.60" width="2.4" height="2.4" fill="#5a9a2a"/><rect x="63" y="78.00" width="9" height="1.2" fill="#999"/><rect x="76" y="77.80" width="4" height="1.8" fill="#7a8a5a"/><rect x="84" y="78.00" width="10" height="1.2" fill="#b5b5b5"/><rect x="100" y="78.00" width="11" height="1.3" fill="#777"/><rect x="150" y="77.40" width="18" height="2.6" fill="#c5dcf8"/><rect x="175" y="78.00" width="10" height="1.2" fill="#d8c8b8"/><rect x="50" y="80.45" width="141" height="3.45" fill="#f7f9fc"/><rect x="51" y="81.05" width="2.4" height="2.4" fill="#8aa02a"/><rect x="63" y="81.45" width="9" height="1.2" fill="#999"/><rect x="76" y="81.25" width="4" height="1.8" fill="#7a8a5a"/><rect x="84" y="81.45" width="10" height="1.2" fill="#b5b5b5"/><rect x="100" y="81.45" width="11" height="1.3" fill="#777"/><rect x="150" y="80.85" width="18" height="2.6" fill="#a8c8f4"/><rect x="175" y="81.45" width="10" height="1.2" fill="#d8c8b8"/>
<rect x="50" y="84" width="141" height="9" fill="#c8dcf6"/>
<rect x="100" y="86.5" width="16" height="3" fill="#dde9f8"/>
<rect x="52" y="95" width="139" height="15" fill="#fdfdfd"/>
<rect x="52" y="95" width="139" height="2.6" fill="#e8eef6"/>
<g fill="#999"><rect x="54" y="99" width="4" height="1"/><rect x="70" y="99" width="6" height="1.2" fill="#e06060"/><rect x="83" y="99" width="18" height="1.2"/><rect x="108" y="99" width="10" height="1.2" fill="#e06060"/><rect x="136" y="99" width="6" height="1.2" fill="#e06060"/></g>
<g fill="#555"><rect x="83" y="102" width="22" height="1.2"/><rect x="104" y="101.5" width="14" height="4" fill="#444"/><rect x="70" y="105" width="6" height="1.2" fill="#5060c0"/><rect x="83" y="105" width="18" height="1.2"/><rect x="136" y="105" width="6" height="1.2"/></g>
<rect x="54" y="111.5" width="80" height="1.6" fill="#b8c2d0"/>
<rect x="48" y="114" width="145.2" height="4.8" fill="#b5d0f2"/></g></g>
<g transform="translate(1078.9,19.2)"><use href="#imac"/><g transform="translate(8.3,6.6)"><rect x="0" y="0" width="193.2" height="9.8" fill="url(#titleg)"/>
<circle cx="5" cy="4.6" r="3.6" fill="url(#orb)"/>
<g fill="#a9a9a9" opacity="0.8"><rect x="12" y="5.6" width="12" height="1.6"/><rect x="28" y="5.6" width="11" height="1.6"/><rect x="44" y="5.6" width="11" height="1.6"/><rect x="60" y="5.6" width="6" height="1.6"/><rect x="71" y="5.6" width="6" height="1.6"/><rect x="82" y="5.6" width="12" height="1.6"/><rect x="98" y="5.6" width="6" height="1.6"/><rect x="168" y="5.6" width="5" height="1.6"/><rect x="176" y="5.6" width="12" height="1.6"/><rect x="92" y="1.6" width="14" height="1.4"/></g>
<rect x="0" y="9.8" width="46" height="109" fill="#fcfdfe"/>
<rect x="0" y="15.6" width="46" height="0.8" fill="#d6e2f0"/>
<rect x="46" y="9.8" width="2" height="109" fill="#a9c7ee"/>
<rect x="0" y="110.2" width="46" height="0.7" fill="#c9d9ee"/>
<g fill="#5b93d6"><rect x="6" y="112.5" width="3" height="3"/><rect x="15.5" y="112.5" width="3" height="3"/><rect x="25" y="112.5" width="3" height="3"/><rect x="34.5" y="112.5" width="3" height="3"/></g>
<rect x="0" y="118.8" width="193.2" height="5.8" fill="#0b0b0b"/>
<g fill="#777"><rect x="2" y="120.8" width="8" height="1.2"/><rect x="12" y="120.8" width="6" height="1.2"/><rect x="21" y="120.8" width="5" height="1.2"/><rect x="150" y="120.8" width="18" height="1.2" fill="#555"/><rect x="172" y="120.6" width="18" height="1.6" fill="#bbb"/></g>
<rect x="4" y="19" width="2.4" height="2.2" fill="#aaa"/><rect x="7.2" y="19.4" width="9" height="1.5" fill="#8e8e8e"/><rect x="7" y="23" width="2.4" height="2.2" fill="#999"/><rect x="10.2" y="23.4" width="6" height="1.5" fill="#8e8e8e"/><rect x="10" y="27" width="2.4" height="2.2" fill="#555"/><rect x="13.2" y="27.4" width="9" height="1.5" fill="#8e8e8e"/><rect x="14" y="31" width="2.4" height="2.2" fill="#333"/><rect x="17.2" y="31.4" width="8" height="1.5" fill="#8e8e8e"/><rect x="14" y="35" width="2.4" height="2.2" fill="#333"/><rect x="17.2" y="35.4" width="7" height="1.5" fill="#8e8e8e"/><rect x="10" y="39" width="2.4" height="2.2" fill="#888"/><rect x="13.2" y="39.4" width="11" height="1.5" fill="#8e8e8e"/><rect x="14" y="43" width="2.4" height="2.2" fill="#777"/><rect x="17.2" y="43.4" width="8" height="1.5" fill="#8e8e8e"/><rect x="14" y="47" width="2.4" height="2.2" fill="#555"/><rect x="17.2" y="47.4" width="6" height="1.5" fill="#8e8e8e"/><rect x="48" y="9.8" width="145.2" height="5.6" fill="#f8f9fb"/>
<g fill="#5a5a5a"><rect x="49" y="11.6" width="8" height="1.6"/><rect x="59" y="11.6" width="14" height="1.6"/><rect x="76" y="11.6" width="8" height="1.6"/><rect x="87" y="11.6" width="14" height="1.6"/><rect x="104" y="11.6" width="9" height="1.6"/></g>
<rect x="48" y="15.4" width="145.2" height="103.4" fill="#c6ddf8"/>
<rect x="49" y="17" width="130" height="93" fill="#c9e0fa" stroke="#aac2e6" stroke-width="0.6"/>
<rect x="52" y="28" width="118" height="70" fill="none" stroke="#b4cbe8" stroke-width="0.5"/>
<rect x="180" y="44.5" width="11" height="63" fill="#fbfbfd"/>
<g fill="#55637a"><rect x="53" y="23" width="20" height="1.6"/><rect x="55" y="30" width="8" height="1.2"/><rect x="56" y="35" width="2" height="1.4"/><rect x="61" y="35" width="2" height="1.4"/><rect x="56" y="40.5" width="2" height="1.4"/><rect x="61" y="40.5" width="2" height="1.4"/><rect x="56" y="46" width="2" height="1.4"/><rect x="61" y="46" width="2" height="1.4"/><rect x="55" y="59" width="8" height="1.2"/><rect x="56" y="64.5" width="2" height="1.4"/><rect x="61" y="64.5" width="2" height="1.4"/><rect x="55" y="70" width="8" height="1.4"/><rect x="56" y="75.5" width="2" height="1.4"/><rect x="61" y="75.5" width="2" height="1.4"/><rect x="56" y="81" width="2" height="1.4"/><rect x="61" y="81" width="2" height="1.4"/><rect x="128" y="31" width="6" height="1.2"/></g>
<g fill="#f4f8fe"><rect x="65.6" y="34.5" width="24" height="3"/><rect x="65.6" y="40" width="56.7" height="3"/><rect x="65.6" y="45.6" width="56.7" height="3"/><rect x="65.6" y="64" width="24" height="3"/><rect x="65.6" y="69.8" width="40" height="3"/><rect x="65.6" y="75.4" width="40" height="3"/><rect x="65.6" y="80.6" width="40" height="3" fill="#dfeaf8"/></g>
<rect x="100" y="34.5" width="22" height="3" fill="#d6dfea"/>
<g fill="#d9e5f4"><rect x="108" y="75" width="14" height="3.5"/><rect x="108" y="80.5" width="14" height="3.5"/><rect x="147" y="104.5" width="17" height="4"/><rect x="165.5" y="104.5" width="10" height="4"/></g>
<rect x="68" y="86" width="5" height="1.5" fill="#6a7fb0"/>
<rect x="133.4" y="35.4" width="33.2" height="35.2" fill="#0c1530"/>
<ellipse cx="138" cy="46" rx="6" ry="9" fill="#2a48a8" opacity="0.6"/>
<ellipse cx="150.5" cy="44" rx="3.6" ry="4.3" fill="#e2b89a"/>
<path d="M146,41 C146.5,37 154.5,37 155,41 L154.5,42 C151.5,40 148.5,40 146.5,42 Z" fill="#2a1e18"/>
<path d="M142.5,53 C143.5,49 147.5,48 150.5,49 C153.5,48 157.5,49 158.5,53 L157.5,70.6 L143.5,70.6 Z" fill="#f2f4f8"/>
<g fill="#3a58a8"><rect x="143.5" y="55" width="14" height="2.5"/><rect x="143.5" y="60" width="14" height="2.5"/><rect x="143.5" y="65" width="14" height="2.5"/></g>
<rect x="139" y="48" width="4" height="16" fill="#d9a98a" transform="rotate(-10 141 56)"/>
<rect x="157.5" y="48" width="4" height="16" fill="#d9a98a" transform="rotate(10 159.5 56)"/>
<g fill="#55637a"><rect x="138" y="72.5" width="5" height="1.3"/><rect x="156" y="72.5" width="5" height="1.3"/><rect x="134" y="31" width="5" height="1.2"/></g>
<rect x="48" y="110.5" width="145.2" height="8.3" fill="#b9d3f4"/>
<g fill="#6a7a90"><rect x="50" y="115.5" width="8" height="1.4"/><rect x="62" y="115.5" width="10" height="1.4"/><rect x="76" y="115.5" width="8" height="1.4"/><rect x="90" y="111.5" width="6" height="1.4"/><rect x="104" y="111.5" width="10" height="1.4"/></g></g></g>
<g transform="translate(1440.4,19.2)"><use href="#imac"/><g transform="translate(8.3,6.6)"><rect x="0" y="0" width="193.2" height="9.8" fill="url(#titleg)"/>
<circle cx="5" cy="4.6" r="3.6" fill="url(#orb)"/>
<g fill="#a9a9a9" opacity="0.8"><rect x="12" y="5.6" width="12" height="1.6"/><rect x="28" y="5.6" width="11" height="1.6"/><rect x="44" y="5.6" width="11" height="1.6"/><rect x="60" y="5.6" width="6" height="1.6"/><rect x="71" y="5.6" width="6" height="1.6"/><rect x="82" y="5.6" width="12" height="1.6"/><rect x="98" y="5.6" width="6" height="1.6"/><rect x="168" y="5.6" width="5" height="1.6"/><rect x="176" y="5.6" width="12" height="1.6"/><rect x="92" y="1.6" width="14" height="1.4"/></g>
<rect x="0" y="9.8" width="46" height="109" fill="#fcfdfe"/>
<rect x="0" y="15.6" width="46" height="0.8" fill="#d6e2f0"/>
<rect x="46" y="9.8" width="2" height="109" fill="#a9c7ee"/>
<rect x="0" y="110.2" width="46" height="0.7" fill="#c9d9ee"/>
<g fill="#5b93d6"><rect x="6" y="112.5" width="3" height="3"/><rect x="15.5" y="112.5" width="3" height="3"/><rect x="25" y="112.5" width="3" height="3"/><rect x="34.5" y="112.5" width="3" height="3"/></g>
<rect x="0" y="118.8" width="193.2" height="5.8" fill="#0b0b0b"/>
<g fill="#777"><rect x="2" y="120.8" width="8" height="1.2"/><rect x="12" y="120.8" width="6" height="1.2"/><rect x="21" y="120.8" width="5" height="1.2"/><rect x="150" y="120.8" width="18" height="1.2" fill="#555"/><rect x="172" y="120.6" width="18" height="1.6" fill="#bbb"/></g>
<rect x="4" y="19" width="2.4" height="2.2" fill="#a04060"/><rect x="7.2" y="19.4" width="9" height="1.5" fill="#8e8e8e"/><rect x="7" y="23" width="2.4" height="2.2" fill="#777"/><rect x="10.2" y="23.4" width="5" height="1.5" fill="#8e8e8e"/><rect x="10" y="27" width="2.4" height="2.2" fill="#2a5a5a"/><rect x="13.2" y="27.4" width="6" height="1.5" fill="#8e8e8e"/><rect x="13" y="31" width="2.4" height="2.2" fill="#2a5a5a"/><rect x="16.2" y="31.4" width="8" height="1.5" fill="#8e8e8e"/><rect x="17" y="35.0" width="1.6" height="2.6" fill="#d08a3a"/><rect x="20" y="35.6" width="22" height="1.2" fill="#aaa"/><rect x="17" y="38.6" width="1.6" height="2.6" fill="#d08a3a"/><rect x="20" y="39.2" width="22" height="1.2" fill="#aaa"/><rect x="17" y="42.2" width="1.6" height="2.6" fill="#d08a3a"/><rect x="20" y="42.800000000000004" width="22" height="1.2" fill="#aaa"/><rect x="17" y="45.8" width="1.6" height="2.6" fill="#d08a3a"/><rect x="20" y="46.400000000000006" width="22" height="1.2" fill="#aaa"/><rect x="17" y="49.4" width="1.6" height="2.6" fill="#d08a3a"/><rect x="20" y="50.0" width="22" height="1.2" fill="#aaa"/><rect x="17" y="53.0" width="1.6" height="2.6" fill="#d08a3a"/><rect x="20" y="53.6" width="22" height="1.2" fill="#aaa"/><rect x="17" y="56.6" width="1.6" height="2.6" fill="#d08a3a"/><rect x="20" y="57.2" width="22" height="1.2" fill="#aaa"/><rect x="19" y="59.6" width="27" height="3" fill="#e0e0e0"/><rect x="13" y="63" width="2.4" height="2.2" fill="#2a5a5a"/><rect x="16.2" y="63.4" width="6" height="1.5" fill="#8e8e8e"/><rect x="13" y="67" width="2.4" height="2.2" fill="#2a5a5a"/><rect x="16.2" y="67.4" width="6" height="1.5" fill="#8e8e8e"/><rect x="48" y="9.8" width="145.2" height="5.6" fill="#f8f9fb"/>
<g fill="#4a4a4a"><rect x="49" y="11.6" width="6" height="1.6"/><rect x="57" y="11.2" width="2" height="2.4" fill="#333"/><rect x="61" y="11.6" width="12" height="1.6"/><rect x="76" y="11.6" width="8" height="1.6"/><rect x="88" y="11.2" width="2.4" height="2.4" fill="#2a5a5a"/><rect x="92" y="11.6" width="9" height="1.6"/><rect x="104" y="11.2" width="2.4" height="2.4" fill="#2a5a5a"/><rect x="108" y="11.6" width="8" height="1.6"/></g>
<rect x="48" y="15.4" width="145.2" height="14" fill="#c0d8f6"/>
<rect x="48" y="15.4" width="145.2" height="4" fill="#d4e5f9"/>
<g fill="#6a7a90"><rect x="50" y="16.8" width="28" height="1.5"/><rect x="52" y="22.5" width="10" height="2.5"/></g>
<g><rect x="66" y="21" width="6" height="4" fill="#e8e0d0"/><rect x="74" y="21" width="6" height="4" fill="#f09040"/><rect x="82" y="21" width="5" height="4" fill="#8ac050"/><rect x="92" y="21" width="5" height="4" fill="#7aa0c0"/><rect x="100" y="21" width="5" height="4" fill="#9ab0c8"/><rect x="108" y="21" width="5" height="4" fill="#8a98a8"/><rect x="116" y="21" width="5" height="4" fill="#8a98a8"/></g>
<rect x="48" y="29.4" width="145.2" height="51.6" fill="#fbfbfb"/>
<path d="M67,44 L104,33 L111,36 L124,52 L150,58 L170,81 L79,81 Z" fill="#6b5555"/>
<path d="M71,46 L85,41 L95,60 L81,66 Z" fill="#f2dfbc"/>
<path d="M89,39 L104,35 L114,51 L99,56 Z" fill="#f2dfbc"/>
<path d="M86,66 L117,55 L129,72 L95,80 Z" fill="#f4e3c2"/>
<path d="M75,44 L87,39.5 L89,42.5 L77,47 Z" fill="#a6d8ec"/>
<path d="M93,37.5 L103,34 L105,37 L95,40.5 Z" fill="#a6d8ec"/>
<path d="M117,50 L123,48 L134,64 L128,66 Z" fill="#a6d8ec"/>
<path d="M126,71 L152,64 L166,81 L136,81 Z" fill="#8a7070"/>
<path d="M79,81 L86,66 L95,80 Z" fill="#5a4848"/>
<g fill="#d89a40"><rect x="81" y="50" width="3" height="5"/><rect x="100" y="43" width="3" height="5"/><rect x="137" y="60" width="3" height="6"/><rect x="92" y="68" width="3" height="5"/></g>
<text x="109.5" y="43" font-size="10.5" fill="#2a2a2a" font-family="Liberation Serif,serif">广东省</text>
<g fill="#bbb"><rect x="112" y="47" width="10" height="1"/><rect x="142" y="62.5" width="26" height="1"/><rect x="100" y="66" width="14" height="1"/></g>
<rect x="48" y="81" width="145.2" height="37.8" fill="#c0d8f6"/>
<g fill="#6a7a90"><rect x="52" y="84.5" width="2" height="1.4"/><rect x="72" y="84.5" width="8" height="1.4"/><rect x="92" y="84.5" width="12" height="1.4"/></g>
<rect x="51.3" y="89" width="109.6" height="22.5" fill="#fdfdfd"/>
<rect x="51.3" y="89" width="109.6" height="2.4" fill="#c6dbf4"/>
<g fill="#ee8080"><rect x="65" y="93" width="5" height="1.2"/><rect x="65" y="96" width="5" height="1.2"/><rect x="65" y="99" width="5" height="1.2"/><rect x="65" y="102" width="5" height="1.2"/><rect x="82" y="93" width="14" height="1.3"/><rect x="82" y="96" width="14" height="1.3"/><rect x="82" y="99" width="14" height="1.3"/><rect x="104" y="93" width="24" height="1.3" fill="#f0a0a0"/><rect x="104" y="96" width="24" height="1.3" fill="#f0a0a0"/><rect x="104" y="99" width="24" height="1.3" fill="#f0a0a0"/><rect x="104" y="102" width="24" height="1.3" fill="#f0a0a0"/><rect x="140" y="93" width="10" height="1.3" fill="#e8c060"/><rect x="140" y="96" width="10" height="1.3"/><rect x="140" y="99" width="10" height="1.3"/></g>
<rect x="51.3" y="106" width="109.6" height="1.5" fill="#b8c8e8"/>
<rect x="162.3" y="90.8" width="30.5" height="23.4" fill="#0c1430"/>
<ellipse cx="166" cy="98" rx="4" ry="6" fill="#2a48a8" opacity="0.6"/>
<ellipse cx="177.5" cy="96.5" rx="3" ry="3.6" fill="#e2b89a"/>
<path d="M170,114.2 C170,105 173,102 177.5,102 C182,102 185,105 185,114.2 Z" fill="#f2f4f8"/>
<g fill="#3a58a8"><rect x="171" y="105" width="13" height="2"/><rect x="171" y="109" width="13" height="2"/></g>
<rect x="48" y="114.2" width="114" height="4.6" fill="#bcd5f4"/>
<g fill="#6a7a90"><rect x="52" y="115.5" width="10" height="1.4"/><rect x="66" y="115.5" width="14" height="1.4"/><rect x="84" y="115.5" width="10" height="1.4"/><rect x="98" y="115.5" width="10" height="1.4"/></g></g></g>
<!-- /monitors -->
<!-- PCBs -->
<g id="pcb"><rect x="341.3" y="507.8" width="242.4" height="178" rx="3" fill="#171717"/><g fill="#202020"><rect x="350" y="552" width="150" height="2"/><rect x="372" y="570" width="60" height="1.5"/><rect x="500" y="560" width="30" height="1.5"/><rect x="440" y="608" width="70" height="1.5"/></g><rect x="370.2" y="491.1" width="54.80000000000001" height="38.3" fill="#6ccb5c"/><rect x="370.2" y="491.1" width="54.80000000000001" height="3.2" fill="#4fae45"/><rect x="370.2" y="503.5" width="54.80000000000001" height="1" fill="#5ab84c"/><rect x="370.2" y="505" width="54.80000000000001" height="9" fill="#74d266"/><rect x="370.2" y="520.6" width="54.80000000000001" height="1.2" fill="#3f8f35"/><rect x="370.2" y="521.8" width="54.80000000000001" height="6.8" fill="#1c1c2a"/><rect x="370.2" y="528.6" width="54.80000000000001" height="0.8" fill="#c8c8c8"/><circle cx="373.6" cy="499.4" r="2.4" fill="#e2f5dc"/><rect x="372.0" y="523.8" width="3.2" height="1.3" fill="#d8d8e0"/><circle cx="380.5" cy="499.4" r="2.4" fill="#e2f5dc"/><rect x="378.9" y="523.8" width="3.2" height="1.3" fill="#d8d8e0"/><circle cx="387.3" cy="499.4" r="2.4" fill="#e2f5dc"/><rect x="385.7" y="523.8" width="3.2" height="1.3" fill="#d8d8e0"/><circle cx="394.2" cy="499.4" r="2.4" fill="#e2f5dc"/><rect x="392.6" y="523.8" width="3.2" height="1.3" fill="#d8d8e0"/><circle cx="401.0" cy="499.4" r="2.4" fill="#e2f5dc"/><rect x="399.4" y="523.8" width="3.2" height="1.3" fill="#d8d8e0"/><circle cx="407.9" cy="499.4" r="2.4" fill="#e2f5dc"/><rect x="406.3" y="523.8" width="3.2" height="1.3" fill="#d8d8e0"/><circle cx="414.7" cy="499.4" r="2.4" fill="#e2f5dc"/><rect x="413.1" y="523.8" width="3.2" height="1.3" fill="#d8d8e0"/><circle cx="421.6" cy="499.4" r="2.4" fill="#e2f5dc"/><rect x="420.0" y="523.8" width="3.2" height="1.3" fill="#d8d8e0"/><rect x="434.6" y="491.1" width="54.599999999999966" height="38.3" fill="#6ccb5c"/><rect x="434.6" y="491.1" width="54.599999999999966" height="3.2" fill="#4fae45"/><rect x="434.6" y="503.5" width="54.599999999999966" height="1" fill="#5ab84c"/><rect x="434.6" y="505" width="54.599999999999966" height="9" fill="#74d266"/><rect x="434.6" y="520.6" width="54.599999999999966" height="1.2" fill="#3f8f35"/><rect x="434.6" y="521.8" width="54.599999999999966" height="6.8" fill="#1c1c2a"/><rect x="434.6" y="528.6" width="54.599999999999966" height="0.8" fill="#c8c8c8"/><circle cx="438.0" cy="499.4" r="2.4" fill="#e2f5dc"/><rect x="436.4" y="523.8" width="3.2" height="1.3" fill="#d8d8e0"/><circle cx="444.8" cy="499.4" r="2.4" fill="#e2f5dc"/><rect x="443.2" y="523.8" width="3.2" height="1.3" fill="#d8d8e0"/><circle cx="451.7" cy="499.4" r="2.4" fill="#e2f5dc"/><rect x="450.1" y="523.8" width="3.2" height="1.3" fill="#d8d8e0"/><circle cx="458.5" cy="499.4" r="2.4" fill="#e2f5dc"/><rect x="456.9" y="523.8" width="3.2" height="1.3" fill="#d8d8e0"/><circle cx="465.3" cy="499.4" r="2.4" fill="#e2f5dc"/><rect x="463.7" y="523.8" width="3.2" height="1.3" fill="#d8d8e0"/><circle cx="472.1" cy="499.4" r="2.4" fill="#e2f5dc"/><rect x="470.5" y="523.8" width="3.2" height="1.3" fill="#d8d8e0"/><circle cx="479.0" cy="499.4" r="2.4" fill="#e2f5dc"/><rect x="477.4" y="523.8" width="3.2" height="1.3" fill="#d8d8e0"/><circle cx="485.8" cy="499.4" r="2.4" fill="#e2f5dc"/><rect x="484.2" y="523.8" width="3.2" height="1.3" fill="#d8d8e0"/><rect x="504" y="512.3" width="39.5" height="12" fill="#ececec"/><rect x="504" y="524.3" width="39.5" height="4.7" fill="#d0d0d0"/><g fill="#333"><rect x="505.5" y="524.8" width="2.6" height="4"/><rect x="510.4" y="524.8" width="2.6" height="4"/><rect x="515.3" y="524.8" width="2.6" height="4"/><rect x="520.2" y="524.8" width="2.6" height="4"/><rect x="525.1" y="524.8" width="2.6" height="4"/><rect x="530.0" y="524.8" width="2.6" height="4"/><rect x="534.9" y="524.8" width="2.6" height="4"/><rect x="539.8" y="524.8" width="2.6" height="4"/></g><rect x="505" y="510" width="37" height="1.4" fill="#9a9aa8"/><circle cx="354.1" cy="519.8" r="7.2" fill="#f0f0f0"/><circle cx="354.1" cy="519.8" r="6" fill="#c9c9c9"/><circle cx="354.1" cy="519.8" r="4.5" fill="#dcdcdc"/><circle cx="570.4" cy="520.4" r="7.2" fill="#f0f0f0"/><circle cx="570.4" cy="520.4" r="6" fill="#c9c9c9"/><circle cx="570.4" cy="520.4" r="4.5" fill="#dcdcdc"/><circle cx="353.8" cy="673.6" r="7.2" fill="#f0f0f0"/><circle cx="353.8" cy="673.6" r="6" fill="#c9c9c9"/><circle cx="353.8" cy="673.6" r="4.5" fill="#dcdcdc"/><circle cx="570.6" cy="673.4" r="7.2" fill="#f0f0f0"/><circle cx="570.6" cy="673.4" r="6" fill="#c9c9c9"/><circle cx="570.6" cy="673.4" r="4.5" fill="#dcdcdc"/><rect x="377" y="531.5" width="45" height="13" fill="#2a2a2a"/><rect x="377" y="531.5" width="45" height="1.6" fill="#8a8a8a"/><rect x="377" y="542.6" width="45" height="1.6" fill="#8a8a8a"/><circle cx="381.8" cy="537.8" r="3.5" fill="#3c3c3c" stroke="#555" stroke-width="0.8"/><circle cx="390.2" cy="537.8" r="3.5" fill="#3c3c3c" stroke="#555" stroke-width="0.8"/><circle cx="398.6" cy="537.8" r="3.5" fill="#3c3c3c" stroke="#555" stroke-width="0.8"/><circle cx="407.0" cy="537.8" r="3.5" fill="#3c3c3c" stroke="#555" stroke-width="0.8"/><circle cx="415.4" cy="537.8" r="3.5" fill="#3c3c3c" stroke="#555" stroke-width="0.8"/><rect x="432" y="531.5" width="46" height="13" fill="#2a2a2a"/><rect x="432" y="531.5" width="46" height="1.6" fill="#8a8a8a"/><rect x="432" y="542.6" width="46" height="1.6" fill="#8a8a8a"/><circle cx="436.8" cy="537.8" r="3.5" fill="#3c3c3c" stroke="#555" stroke-width="0.8"/><circle cx="445.2" cy="537.8" r="3.5" fill="#3c3c3c" stroke="#555" stroke-width="0.8"/><circle cx="453.6" cy="537.8" r="3.5" fill="#3c3c3c" stroke="#555" stroke-width="0.8"/><circle cx="462.0" cy="537.8" r="3.5" fill="#3c3c3c" stroke="#555" stroke-width="0.8"/><circle cx="470.4" cy="537.8" r="3.5" fill="#3c3c3c" stroke="#555" stroke-width="0.8"/><rect x="423" y="533" width="7" height="10" fill="#c8a050"/><rect x="424" y="535" width="5" height="6" fill="#2a2a2a"/><rect x="368" y="537" width="2" height="4" fill="#3e3e3e"/><rect x="371.5" y="537" width="2" height="4" fill="#3e3e3e"/><rect x="356" y="545" width="5" height="1.5" fill="#2c2c2c"/><rect x="356" y="549" width="5" height="1.5" fill="#2c2c2c"/><rect x="357" y="553" width="3" height="1.5" fill="#3e3e3e"/><rect x="358" y="557" width="4" height="2" fill="#2c2c2c"/><rect x="359" y="561" width="4" height="2" fill="#c8c8c8"/><rect x="368" y="560" width="3" height="5" fill="#3e3e3e"/><rect x="378" y="548" width="40" height="3" fill="#2c2c2c"/><rect x="437" y="548" width="40" height="3" fill="#3e3e3e"/><rect x="381" y="555" width="25" height="7" fill="#2c2c2c"/><rect x="440" y="555" width="25" height="7" fill="#c8c8c8"/><rect x="398" y="564" width="4" height="3" fill="#3e3e3e"/><rect x="452" y="562" width="4" height="3" fill="#5a5a5a"/><rect x="487" y="545" width="6" height="8" fill="#3e3e3e"/><rect x="495" y="547" width="10" height="6" fill="#3e3e3e"/><rect x="508" y="545" width="12" height="1.5" fill="#c8c8c8"/><rect x="512" y="548" width="6" height="6" fill="#5a5a5a"/><rect x="521" y="548" width="10" height="8" fill="#5a5a5a"/><rect x="531" y="542" width="3" height="10" fill="#2c2c2c"/><rect x="513" y="555" width="8" height="2" fill="#2c2c2c"/><rect x="513" y="559" width="8" height="2" fill="#c8c8c8"/><rect x="523" y="560" width="6" height="6" fill="#2c2c2c"/><rect x="509" y="563" width="6" height="4" fill="#c8c8c8"/><rect x="518" y="563" width="6" height="4" fill="#3e3e3e"/><rect x="481" y="561" width="16" height="7" fill="#c8c8c8"/><rect x="500" y="593" width="10" height="3" fill="#c8c8c8"/><rect x="506" y="596" width="9" height="8" fill="#2c2c2c"/><rect x="520" y="610" width="12" height="7" fill="#5a5a5a"/><rect x="529" y="616" width="7" height="12" fill="#5a5a5a"/><rect x="552" y="608" width="6" height="4" fill="#2c2c2c"/><rect x="550" y="615" width="4" height="20" fill="#2c2c2c"/><rect x="556" y="620" width="5" height="3" fill="#5a5a5a"/><rect x="493" y="615" width="14" height="8" fill="#2c2c2c"/><rect x="486" y="628" width="8" height="6" fill="#3e3e3e"/><rect x="496" y="630" width="8" height="14" fill="#3e3e3e"/><rect x="509" y="625" width="5" height="12" fill="#5a5a5a"/><rect x="520" y="633" width="14" height="12" fill="#2c2c2c"/><rect x="536" y="630" width="8" height="12" fill="#3e3e3e"/><rect x="490" y="649" width="10" height="6" fill="#2c2c2c"/><rect x="503" y="650" width="12" height="8" fill="#2c2c2c"/><rect x="518" y="652" width="16" height="6" fill="#5a5a5a"/><rect x="523" y="643" width="10" height="6" fill="#5a5a5a"/><rect x="460" y="588" width="5" height="3" fill="#c8c8c8"/><rect x="456" y="593" width="8" height="3" fill="#c8c8c8"/><rect x="458" y="600" width="4" height="6" fill="#c8c8c8"/><rect x="458" y="578" width="4" height="4" fill="#5a5a5a"/><rect x="445" y="588" width="5" height="4" fill="#3e3e3e"/><rect x="447" y="595" width="5" height="4" fill="#c8c8c8"/><rect x="391" y="612" width="6" height="2" fill="#3e3e3e"/><rect x="400" y="612" width="6" height="2" fill="#5a5a5a"/><rect x="388" y="620" width="14" height="4" fill="#5a5a5a"/><rect x="392" y="626" width="12" height="2" fill="#2c2c2c"/><rect x="391" y="632" width="6" height="2" fill="#3e3e3e"/><rect x="400" y="632" width="6" height="2" fill="#5a5a5a"/><rect x="407" y="633" width="4" height="5" fill="#3e3e3e"/><rect x="375" y="640" width="4" height="7" fill="#3e3e3e"/><rect x="382" y="642" width="6" height="6" fill="#c8c8c8"/><rect x="390" y="642" width="6" height="6" fill="#2c2c2c"/><rect x="398" y="642" width="5" height="6" fill="#c8c8c8"/><rect x="377" y="651" width="6" height="4" fill="#3e3e3e"/><rect x="385" y="652" width="12" height="5" fill="#2c2c2c"/><rect x="398" y="651" width="8" height="6" fill="#c8c8c8"/><rect x="372" y="659" width="6" height="3" fill="#2c2c2c"/><rect x="401" y="640" width="4" height="2" fill="#5a5a5a"/><rect x="381" y="557" width="25" height="6" fill="#262626"/><rect x="440" y="557" width="25" height="6" fill="#262626"/><g fill="#b0b0b0"><rect x="382.0" y="555" width="1" height="2"/><rect x="382.0" y="563" width="1" height="2"/><rect x="441.0" y="555" width="1" height="2"/><rect x="441.0" y="563" width="1" height="2"/><rect x="385.0" y="555" width="1" height="2"/><rect x="385.0" y="563" width="1" height="2"/><rect x="444.0" y="555" width="1" height="2"/><rect x="444.0" y="563" width="1" height="2"/><rect x="388.0" y="555" width="1" height="2"/><rect x="388.0" y="563" width="1" height="2"/><rect x="447.0" y="555" width="1" height="2"/><rect x="447.0" y="563" width="1" height="2"/><rect x="391.0" y="555" width="1" height="2"/><rect x="391.0" y="563" width="1" height="2"/><rect x="450.0" y="555" width="1" height="2"/><rect x="450.0" y="563" width="1" height="2"/><rect x="394.0" y="555" width="1" height="2"/><rect x="394.0" y="563" width="1" height="2"/><rect x="453.0" y="555" width="1" height="2"/><rect x="453.0" y="563" width="1" height="2"/><rect x="397.0" y="555" width="1" height="2"/><rect x="397.0" y="563" width="1" height="2"/><rect x="456.0" y="555" width="1" height="2"/><rect x="456.0" y="563" width="1" height="2"/><rect x="400.0" y="555" width="1" height="2"/><rect x="400.0" y="563" width="1" height="2"/><rect x="459.0" y="555" width="1" height="2"/><rect x="459.0" y="563" width="1" height="2"/><rect x="403.0" y="555" width="1" height="2"/><rect x="403.0" y="563" width="1" height="2"/><rect x="462.0" y="555" width="1" height="2"/><rect x="462.0" y="563" width="1" height="2"/></g><circle cx="378.9" cy="584.2" r="7.3" fill="#2c4a3c"/><circle cx="378.9" cy="584.2" r="5.699999999999999" fill="#e6ecea"/><circle cx="378.9" cy="584.2" r="4.1" fill="#f7faf8"/><circle cx="397.2" cy="584.2" r="6.8" fill="#2c4a3c"/><circle cx="397.2" cy="584.2" r="5.199999999999999" fill="#e6ecea"/><circle cx="397.2" cy="584.2" r="3.5999999999999996" fill="#f7faf8"/><circle cx="412" cy="584.6" r="6.5" fill="#2c4a3c"/><circle cx="412" cy="584.6" r="4.9" fill="#e6ecea"/><circle cx="412" cy="584.6" r="3.3" fill="#f7faf8"/><path d="M373,578 A7.3,7.3 0 0 1 382,577.5 L380,580 Z" fill="#c8b040"/><rect x="350.2" y="586" width="17.4" height="52.7" fill="#f2f2f2"/><text transform="translate(362.5,632) rotate(-90)" font-size="8.5" fill="#444" font-family="Liberation Sans,sans-serif">ID:25518</text><rect x="465" y="574" width="29" height="29" fill="#3d3d3d"/><rect x="467" y="576" width="25" height="25" fill="#4a4a4a"/><g fill="#9a9a9a"><rect x="463" y="576" width="2" height="25"/><rect x="494" y="576" width="2" height="25"/><rect x="467" y="572" width="25" height="2"/><rect x="467" y="603" width="25" height="2"/></g><rect x="500" y="576.3" width="35" height="14" fill="#111" stroke="#aaa" stroke-width="0.8"/><g fill="#555"><rect x="503" y="579" width="29" height="2"/><rect x="503" y="585" width="29" height="2"/></g><rect x="520" y="590.5" width="15" height="12" fill="#1a1a1a" stroke="#bbb" stroke-width="0.6"/><g fill="#ccc"><rect x="522" y="593" width="11" height="2.5"/><rect x="522" y="598" width="11" height="2.5"/></g><path d="M540,559.5 L540,545 Q541,536 549,535 L558,535 Q566,536 566.7,545 L566.7,559.5 Z" fill="#3a3528" stroke="#b09a70" stroke-width="0.8"/><circle cx="554" cy="546.3" r="10" fill="#eeeae2"/><circle cx="554" cy="546.3" r="6" fill="#f8f6f2"/><rect x="552" y="532" width="4" height="4" fill="#e8e4dc"/><rect x="552" y="561" width="4" height="5" fill="#d8d4cc"/><circle cx="553.5" cy="583" r="16.8" fill="#1a2a7a"/><circle cx="553.5" cy="583" r="14.5" fill="#28367e"/><circle cx="553.5" cy="583" r="13" fill="#e2dccd"/><circle cx="553.5" cy="585" r="7" fill="#d4cdbb"/><circle cx="553.5" cy="585" r="5" fill="#e6e0d2"/><rect x="568" y="578" width="3" height="7" fill="#6a8ad0"/><rect x="413.7" y="600.4" width="19.6" height="59" fill="#202020" stroke="#666" stroke-width="0.7"/><rect x="415.2" y="611" width="16.6" height="32" fill="#2c2c2c" stroke="#555" stroke-width="0.5"/><g fill="#bbb"><rect x="415.2" y="602" width="5" height="1.5"/><rect x="421.7" y="602" width="5" height="1.5"/><rect x="427.7" y="602" width="4" height="1.5"/><rect x="415.7" y="605.5" width="4" height="1.3"/><rect x="422.7" y="605.5" width="6" height="1.3"/></g><rect x="414.7" y="646" width="5" height="10" rx="1.5" fill="#d9b830"/><rect x="420.7" y="647" width="11" height="9" fill="#151515"/><rect x="441.5" y="600.4" width="19.6" height="59" fill="#202020" stroke="#666" stroke-width="0.7"/><rect x="443.0" y="611" width="16.6" height="32" fill="#2c2c2c" stroke="#555" stroke-width="0.5"/><g fill="#bbb"><rect x="443.0" y="602" width="5" height="1.5"/><rect x="449.5" y="602" width="5" height="1.5"/><rect x="455.5" y="602" width="4" height="1.5"/><rect x="443.5" y="605.5" width="4" height="1.3"/><rect x="450.5" y="605.5" width="6" height="1.3"/></g><rect x="442.5" y="646" width="5" height="10" rx="1.5" fill="#d9b830"/><rect x="448.5" y="647" width="11" height="9" fill="#151515"/><rect x="401" y="648" width="4" height="8" fill="#d9b830"/><rect x="398" y="641" width="6" height="6" fill="#c0c0c0"/><rect x="469" y="646" width="10" height="6" fill="#9a9a9a"/><rect x="481" y="643" width="14" height="10" fill="#2a2a2a"/><rect x="486" y="657" width="8" height="3" fill="#d9a030"/><rect x="498" y="648" width="8" height="6" fill="#8a8a8a"/><rect x="507" y="640" width="14" height="8" fill="#777"/><rect x="508" y="650" width="12" height="8" fill="#333"/><rect x="489" y="629" width="12" height="5" fill="#8a7a6a"/><rect x="487" y="618" width="5" height="8" fill="#888"/><rect x="532" y="618" width="16" height="14" fill="#2a2a2a"/><g fill="#aaa"><rect x="533" y="616" width="1" height="2"/><rect x="533" y="632" width="1" height="2"/><rect x="535" y="616" width="1" height="2"/><rect x="535" y="632" width="1" height="2"/><rect x="537" y="616" width="1" height="2"/><rect x="537" y="632" width="1" height="2"/><rect x="539" y="616" width="1" height="2"/><rect x="539" y="632" width="1" height="2"/><rect x="541" y="616" width="1" height="2"/><rect x="541" y="632" width="1" height="2"/><rect x="543" y="616" width="1" height="2"/><rect x="543" y="632" width="1" height="2"/><rect x="545" y="616" width="1" height="2"/><rect x="545" y="632" width="1" height="2"/><rect x="547" y="616" width="1" height="2"/><rect x="547" y="632" width="1" height="2"/></g><rect x="548" y="604" width="7" height="30" fill="#3a3a3a"/><rect x="540" y="598" width="18" height="14" fill="#3a3a3a"/><rect x="528" y="648" width="29.5" height="38" fill="#c4c4bc"/><rect x="529.5" y="650" width="26.5" height="36" fill="#cfcfc8"/><ellipse cx="542.5" cy="664.5" rx="9" ry="5.5" fill="#e4e4f0" stroke="#5a6aa0" stroke-width="0.7"/><g fill="#5a6aa0"><rect x="537" y="662" width="11" height="1"/><rect x="539" y="666" width="7" height="1"/></g><path d="M511.5,667 L522.5,667 L517,677 Z" fill="#f2f2f2"/><path d="M517.5,669 L519.5,669 L517,672.5 Z" fill="#171717"/><rect x="369.8" y="663.3" width="36.099999999999966" height="6.4" fill="#16161e"/><rect x="370.3" y="663.3" width="35.099999999999966" height="0.8" fill="#cfcfd8"/><rect x="371.6" y="665.8" width="3.6" height="1.3" fill="#d8d8e0"/><rect x="378.8" y="665.8" width="3.6" height="1.3" fill="#d8d8e0"/><rect x="386.1" y="665.8" width="3.6" height="1.3" fill="#d8d8e0"/><rect x="393.3" y="665.8" width="3.6" height="1.3" fill="#d8d8e0"/><rect x="400.5" y="665.8" width="3.6" height="1.3" fill="#d8d8e0"/><rect x="369.8" y="669.7" width="36.099999999999966" height="31.8" fill="#6bcb5b"/><rect x="369.8" y="686.2" width="36.099999999999966" height="1" fill="#4fa843"/><rect x="369.8" y="687.2" width="36.099999999999966" height="11.5" fill="#63c053"/><rect x="369.8" y="699.5" width="36.099999999999966" height="2" fill="#49a33e"/><circle cx="373.4" cy="693" r="2.2" fill="#a8d8a0"/><circle cx="380.6" cy="693" r="2.2" fill="#a8d8a0"/><circle cx="387.9" cy="693" r="2.2" fill="#a8d8a0"/><circle cx="395.1" cy="693" r="2.2" fill="#a8d8a0"/><circle cx="402.3" cy="693" r="2.2" fill="#a8d8a0"/><rect x="409.1" y="663.3" width="28.19999999999999" height="6.4" fill="#16161e"/><rect x="409.6" y="663.3" width="27.19999999999999" height="0.8" fill="#cfcfd8"/><rect x="410.8" y="665.8" width="3.6" height="1.3" fill="#d8d8e0"/><rect x="417.9" y="665.8" width="3.6" height="1.3" fill="#d8d8e0"/><rect x="424.9" y="665.8" width="3.6" height="1.3" fill="#d8d8e0"/><rect x="432.0" y="665.8" width="3.6" height="1.3" fill="#d8d8e0"/><rect x="409.1" y="669.7" width="28.19999999999999" height="31.8" fill="#6bcb5b"/><rect x="409.1" y="686.2" width="28.19999999999999" height="1" fill="#4fa843"/><rect x="409.1" y="687.2" width="28.19999999999999" height="11.5" fill="#63c053"/><rect x="409.1" y="699.5" width="28.19999999999999" height="2" fill="#49a33e"/><circle cx="412.6" cy="693" r="2.2" fill="#a8d8a0"/><circle cx="419.7" cy="693" r="2.2" fill="#a8d8a0"/><circle cx="426.7" cy="693" r="2.2" fill="#a8d8a0"/><circle cx="433.8" cy="693" r="2.2" fill="#a8d8a0"/><rect x="441.6" y="663.3" width="41.5" height="6.4" fill="#16161e"/><rect x="442.1" y="663.3" width="40.5" height="0.8" fill="#cfcfd8"/><rect x="443.3" y="665.8" width="3.6" height="1.3" fill="#d8d8e0"/><rect x="450.2" y="665.8" width="3.6" height="1.3" fill="#d8d8e0"/><rect x="457.1" y="665.8" width="3.6" height="1.3" fill="#d8d8e0"/><rect x="464.0" y="665.8" width="3.6" height="1.3" fill="#d8d8e0"/><rect x="470.9" y="665.8" width="3.6" height="1.3" fill="#d8d8e0"/><rect x="477.8" y="665.8" width="3.6" height="1.3" fill="#d8d8e0"/><rect x="441.6" y="669.7" width="41.5" height="31.8" fill="#6bcb5b"/><rect x="441.6" y="686.2" width="41.5" height="1" fill="#4fa843"/><rect x="441.6" y="687.2" width="41.5" height="11.5" fill="#63c053"/><rect x="441.6" y="699.5" width="41.5" height="2" fill="#49a33e"/><circle cx="445.1" cy="693" r="2.2" fill="#a8d8a0"/><circle cx="452.0" cy="693" r="2.2" fill="#a8d8a0"/><circle cx="458.9" cy="693" r="2.2" fill="#a8d8a0"/><circle cx="465.8" cy="693" r="2.2" fill="#a8d8a0"/><circle cx="472.7" cy="693" r="2.2" fill="#a8d8a0"/><circle cx="479.6" cy="693" r="2.2" fill="#a8d8a0"/><rect x="486.9" y="663.3" width="21.900000000000034" height="6.4" fill="#16161e"/><rect x="487.4" y="663.3" width="20.900000000000034" height="0.8" fill="#cfcfd8"/><rect x="488.7" y="665.8" width="3.6" height="1.3" fill="#d8d8e0"/><rect x="496.1" y="665.8" width="3.6" height="1.3" fill="#d8d8e0"/><rect x="503.3" y="665.8" width="3.6" height="1.3" fill="#d8d8e0"/><rect x="486.9" y="669.7" width="21.900000000000034" height="31.8" fill="#6bcb5b"/><rect x="486.9" y="686.2" width="21.900000000000034" height="1" fill="#4fa843"/><rect x="486.9" y="687.2" width="21.900000000000034" height="11.5" fill="#63c053"/><rect x="486.9" y="699.5" width="21.900000000000034" height="2" fill="#49a33e"/><circle cx="490.5" cy="693" r="2.2" fill="#a8d8a0"/><circle cx="497.9" cy="693" r="2.2" fill="#a8d8a0"/><circle cx="505.1" cy="693" r="2.2" fill="#a8d8a0"/></g><use href="#pcb" x="1244.7" y="0"/>
<!-- data server box -->
<g id="box"><polygon points="938.7,587.3 943.5,587.6 1101.5,695.2 1226.0,599.6 1227.2,603.6 1097.5,702.2 939.2,592.2" fill="#1b1b1b" /><line x1="939" y1="588.5" x2="1098" y2="700" stroke="#3a3a3a" stroke-width="1"/><polygon points="942.2,547.8 1102.2,647.0 1101.5,695.6 943.0,588.0" fill="#151515" /><line x1="942.8" y1="549.5" x2="1101.6" y2="649.0" stroke="#2c2c2c" stroke-width="0.8"/><line x1="942.8" y1="551.1" x2="1101.6" y2="651.0" stroke="#2c2c2c" stroke-width="0.8"/><line x1="942.8" y1="552.8" x2="1101.6" y2="653.1" stroke="#2c2c2c" stroke-width="0.8"/><line x1="942.8" y1="554.5" x2="1101.6" y2="655.1" stroke="#2c2c2c" stroke-width="0.8"/><line x1="942.8" y1="556.2" x2="1101.6" y2="657.1" stroke="#2c2c2c" stroke-width="0.8"/><line x1="942.8" y1="557.8" x2="1101.6" y2="659.1" stroke="#2c2c2c" stroke-width="0.8"/><line x1="942.8" y1="559.5" x2="1101.6" y2="661.2" stroke="#2c2c2c" stroke-width="0.8"/><line x1="942.8" y1="561.2" x2="1101.6" y2="663.2" stroke="#2c2c2c" stroke-width="0.8"/><line x1="942.8" y1="562.9" x2="1101.6" y2="665.2" stroke="#2c2c2c" stroke-width="0.8"/><line x1="942.8" y1="564.5" x2="1101.6" y2="667.2" stroke="#2c2c2c" stroke-width="0.8"/><line x1="942.8" y1="566.2" x2="1101.6" y2="669.3" stroke="#2c2c2c" stroke-width="0.8"/><line x1="942.8" y1="567.9" x2="1101.6" y2="671.3" stroke="#2c2c2c" stroke-width="0.8"/><line x1="942.8" y1="569.6" x2="1101.6" y2="673.3" stroke="#2c2c2c" stroke-width="0.8"/><line x1="942.8" y1="571.2" x2="1101.6" y2="675.4" stroke="#2c2c2c" stroke-width="0.8"/><line x1="942.8" y1="572.9" x2="1101.6" y2="677.4" stroke="#2c2c2c" stroke-width="0.8"/><line x1="942.8" y1="574.6" x2="1101.6" y2="679.4" stroke="#2c2c2c" stroke-width="0.8"/><line x1="942.8" y1="576.3" x2="1101.6" y2="681.4" stroke="#2c2c2c" stroke-width="0.8"/><line x1="942.8" y1="578.0" x2="1101.6" y2="683.5" stroke="#2c2c2c" stroke-width="0.8"/><line x1="942.8" y1="579.6" x2="1101.6" y2="685.5" stroke="#2c2c2c" stroke-width="0.8"/><line x1="942.8" y1="581.3" x2="1101.6" y2="687.5" stroke="#2c2c2c" stroke-width="0.8"/><line x1="942.8" y1="583.0" x2="1101.6" y2="689.5" stroke="#2c2c2c" stroke-width="0.8"/><line x1="942.8" y1="584.6" x2="1101.6" y2="691.6" stroke="#2c2c2c" stroke-width="0.8"/><line x1="942.8" y1="586.3" x2="1101.6" y2="693.6" stroke="#2c2c2c" stroke-width="0.8"/><polygon points="1102.2,647.0 1224.0,567.9 1226.0,600.0 1101.5,695.6" fill="#2c2c2e" /><polygon points="1104.0,649.0 1222.0,570.0 1222.5,574.0 1104.5,653.0" fill="#3a3a3c" /><polygon points="942.2,547.8 1102.2,647.0 1224.0,567.9 1059.6,490.1" fill="#262626" /><line x1="944.0" y1="546.9" x2="1104.1" y2="645.8" stroke="#0e0e0e" stroke-width="1"/><line x1="945.9" y1="546.0" x2="1106.0" y2="644.5" stroke="#0e0e0e" stroke-width="1"/><line x1="947.7" y1="545.1" x2="1107.9" y2="643.3" stroke="#0e0e0e" stroke-width="1"/><line x1="949.5" y1="544.2" x2="1109.8" y2="642.1" stroke="#0e0e0e" stroke-width="1"/><line x1="951.4" y1="543.3" x2="1111.7" y2="640.8" stroke="#0e0e0e" stroke-width="1"/><line x1="953.2" y1="542.4" x2="1113.6" y2="639.6" stroke="#0e0e0e" stroke-width="1"/><line x1="955.0" y1="541.5" x2="1115.5" y2="638.3" stroke="#0e0e0e" stroke-width="1"/><line x1="956.9" y1="540.6" x2="1117.4" y2="637.1" stroke="#0e0e0e" stroke-width="1"/><line x1="958.7" y1="539.7" x2="1119.3" y2="635.9" stroke="#0e0e0e" stroke-width="1"/><line x1="960.5" y1="538.8" x2="1121.2" y2="634.6" stroke="#0e0e0e" stroke-width="1"/><line x1="962.4" y1="537.9" x2="1123.1" y2="633.4" stroke="#0e0e0e" stroke-width="1"/><line x1="964.2" y1="537.0" x2="1125.0" y2="632.2" stroke="#0e0e0e" stroke-width="1"/><line x1="966.0" y1="536.1" x2="1126.9" y2="630.9" stroke="#0e0e0e" stroke-width="1"/><line x1="967.9" y1="535.2" x2="1128.8" y2="629.7" stroke="#0e0e0e" stroke-width="1"/><line x1="969.7" y1="534.3" x2="1130.7" y2="628.5" stroke="#0e0e0e" stroke-width="1"/><line x1="971.5" y1="533.4" x2="1132.7" y2="627.2" stroke="#0e0e0e" stroke-width="1"/><line x1="973.4" y1="532.5" x2="1134.6" y2="626.0" stroke="#0e0e0e" stroke-width="1"/><line x1="975.2" y1="531.6" x2="1136.5" y2="624.8" stroke="#0e0e0e" stroke-width="1"/><line x1="977.1" y1="530.7" x2="1138.4" y2="623.5" stroke="#0e0e0e" stroke-width="1"/><line x1="978.9" y1="529.8" x2="1140.3" y2="622.3" stroke="#0e0e0e" stroke-width="1"/><line x1="980.7" y1="528.9" x2="1142.2" y2="621.0" stroke="#0e0e0e" stroke-width="1"/><line x1="982.6" y1="528.0" x2="1144.1" y2="619.8" stroke="#0e0e0e" stroke-width="1"/><line x1="984.4" y1="527.1" x2="1146.0" y2="618.6" stroke="#0e0e0e" stroke-width="1"/><line x1="986.2" y1="526.2" x2="1147.9" y2="617.3" stroke="#0e0e0e" stroke-width="1"/><line x1="988.1" y1="525.3" x2="1149.8" y2="616.1" stroke="#0e0e0e" stroke-width="1"/><line x1="989.9" y1="524.4" x2="1151.7" y2="614.9" stroke="#0e0e0e" stroke-width="1"/><line x1="991.7" y1="523.5" x2="1153.6" y2="613.6" stroke="#0e0e0e" stroke-width="1"/><line x1="993.6" y1="522.6" x2="1155.5" y2="612.4" stroke="#0e0e0e" stroke-width="1"/><line x1="995.4" y1="521.7" x2="1157.4" y2="611.2" stroke="#0e0e0e" stroke-width="1"/><line x1="997.2" y1="520.8" x2="1159.3" y2="609.9" stroke="#0e0e0e" stroke-width="1"/><line x1="999.1" y1="519.9" x2="1161.2" y2="608.7" stroke="#0e0e0e" stroke-width="1"/><line x1="1021.1" y1="509.0" x2="1184.0" y2="593.9" stroke="#0e0e0e" stroke-width="1"/><line x1="1022.9" y1="508.1" x2="1185.9" y2="592.6" stroke="#0e0e0e" stroke-width="1"/><line x1="1024.7" y1="507.2" x2="1187.8" y2="591.4" stroke="#0e0e0e" stroke-width="1"/><line x1="1026.6" y1="506.3" x2="1189.7" y2="590.1" stroke="#0e0e0e" stroke-width="1"/><line x1="1028.4" y1="505.4" x2="1191.6" y2="588.9" stroke="#0e0e0e" stroke-width="1"/><line x1="1030.2" y1="504.5" x2="1193.5" y2="587.7" stroke="#0e0e0e" stroke-width="1"/><line x1="1032.1" y1="503.6" x2="1195.5" y2="586.4" stroke="#0e0e0e" stroke-width="1"/><line x1="1033.9" y1="502.7" x2="1197.4" y2="585.2" stroke="#0e0e0e" stroke-width="1"/><line x1="1035.8" y1="501.8" x2="1199.3" y2="584.0" stroke="#0e0e0e" stroke-width="1"/><line x1="1037.6" y1="500.9" x2="1201.2" y2="582.7" stroke="#0e0e0e" stroke-width="1"/><line x1="1039.4" y1="500.0" x2="1203.1" y2="581.5" stroke="#0e0e0e" stroke-width="1"/><line x1="1041.3" y1="499.1" x2="1205.0" y2="580.3" stroke="#0e0e0e" stroke-width="1"/><line x1="1043.1" y1="498.2" x2="1206.9" y2="579.0" stroke="#0e0e0e" stroke-width="1"/><line x1="1044.9" y1="497.3" x2="1208.8" y2="577.8" stroke="#0e0e0e" stroke-width="1"/><line x1="1046.8" y1="496.4" x2="1210.7" y2="576.6" stroke="#0e0e0e" stroke-width="1"/><line x1="1048.6" y1="495.5" x2="1212.6" y2="575.3" stroke="#0e0e0e" stroke-width="1"/><line x1="1050.4" y1="494.6" x2="1214.5" y2="574.1" stroke="#0e0e0e" stroke-width="1"/><line x1="1052.3" y1="493.7" x2="1216.4" y2="572.8" stroke="#0e0e0e" stroke-width="1"/><line x1="1054.1" y1="492.8" x2="1218.3" y2="571.6" stroke="#0e0e0e" stroke-width="1"/><line x1="1055.9" y1="491.9" x2="1220.2" y2="570.4" stroke="#0e0e0e" stroke-width="1"/><line x1="1057.8" y1="491.0" x2="1222.1" y2="569.1" stroke="#0e0e0e" stroke-width="1"/><polygon points="999.7,519.5 1161.9,608.2 1183.2,594.4 1020.3,509.4" fill="#37373c" /><polygon points="942.2,547.8 1102.2,647.0 1112.6,640.3 952.2,542.9" fill="url(#boxedge)" /><line x1="1059.6" y1="490.1" x2="1224.0" y2="567.9" stroke="#3c3c3c" stroke-width="1.2"/><polygon points="1108.6,654 1132.5,640 1134.5,671.5 1110.5,681.5" fill="#121212" /><polygon points="1113.3,656.5 1133.3,647.2 1133.3,668.4 1113.9,676" fill="#e21e2e" /><polygon points="1118,654.3 1133.3,647.2 1133.3,660 1118.5,666" fill="#ea3c4a" /><circle cx="1138" cy="639" r="1.2" fill="#7ad070"/><circle cx="1138" cy="648" r="1.2" fill="#e07050"/><polygon points="1206.5,589.0 1213.0,586.0 1213.0,597.0 1206.5,600.0" fill="#0e0e0e" /><rect x="953" y="595" width="7" height="2.5" fill="#cfcfcf" transform="rotate(32 956 596)"/><rect x="1071" y="682" width="7" height="2.5" fill="#cfcfcf" transform="rotate(32 1074 683)"/></g>

<!-- tower -->
<g id="tower"><ellipse cx="1950" cy="226" rx="75" ry="4" fill="#cfcfcf" filter="url(#blur3)"/><polygon points="1968,18.6 2019.4,33.1 2019.4,207 1968,226.4" fill="url(#towerside)"/><polygon points="1968,18.6 2019.4,33.1 2019.4,207 1968,226.4" fill="url(#towersidev)"/><polygon points="1968,18.6 2019.4,33.1 2019.4,36 1968,22" fill="#e8eaee"/><path d="M2001,95 L2006,112 L2001,129 L1996,112 Z" fill="none" stroke="#b8bcc6" stroke-width="0.9"/><line x1="2005.5" y1="96" x2="2005.5" y2="130" stroke="#c0c4cc" stroke-width="0.8"/><polygon points="1880.2,21.3 1969.8,18.6 1969.8,226.4 1880.2,220.7" fill="#c4c8ce"/><polygon points="1965,19 1969.8,18.6 1969.8,226.4 1965,226" fill="#e2e5e9"/><polygon points="1880.2,21.3 1882.5,21.2 1882.5,220.8 1880.2,220.7" fill="#e8eaec"/><polygon points="1884.5,22.6 1965.2,20.6 1965.2,226 1884.5,221" fill="#2a2c30"/><rect x="1888.6" y="29" width="73.1" height="21.4" fill="url(#bay)"/><rect x="1888.6" y="51.2" width="73.1" height="22.3" fill="#5c6068"/><rect x="1891.8" y="52.6" width="67" height="11.6" fill="url(#bay2)"/><rect x="1895" y="68" width="6" height="1.8" fill="#9aa0a8"/><rect x="1909" y="68.2" width="4" height="1.4" fill="#9aa0a8"/><rect x="1888.6" y="74.3" width="50.8" height="13.7" fill="url(#bay)"/><rect x="1940.6" y="74.3" width="21.1" height="13.7" fill="#55596a"/><polygon points="1884.5,88 1965.2,88 1965.2,226 1884.5,221" fill="#17181a"/><line x1="1886.5" y1="88" x2="1886.5" y2="221.1" stroke="#55585e" stroke-width="1"/><line x1="1889.8" y1="88" x2="1889.8" y2="221.3" stroke="#55585e" stroke-width="1"/><line x1="1893.0" y1="88" x2="1893.0" y2="221.5" stroke="#55585e" stroke-width="1"/><line x1="1896.2" y1="88" x2="1896.2" y2="221.7" stroke="#55585e" stroke-width="1"/><line x1="1899.5" y1="88" x2="1899.5" y2="221.9" stroke="#55585e" stroke-width="1"/><line x1="1902.8" y1="88" x2="1902.8" y2="222.1" stroke="#55585e" stroke-width="1"/><line x1="1906.0" y1="88" x2="1906.0" y2="222.3" stroke="#55585e" stroke-width="1"/><line x1="1909.2" y1="88" x2="1909.2" y2="222.5" stroke="#55585e" stroke-width="1"/><line x1="1912.5" y1="88" x2="1912.5" y2="222.7" stroke="#55585e" stroke-width="1"/><line x1="1915.8" y1="88" x2="1915.8" y2="222.9" stroke="#55585e" stroke-width="1"/><line x1="1932.0" y1="88" x2="1932.0" y2="223.9" stroke="#55585e" stroke-width="1"/><line x1="1935.2" y1="88" x2="1935.2" y2="224.1" stroke="#55585e" stroke-width="1"/><line x1="1938.5" y1="88" x2="1938.5" y2="224.3" stroke="#55585e" stroke-width="1"/><line x1="1941.8" y1="88" x2="1941.8" y2="224.5" stroke="#55585e" stroke-width="1"/><line x1="1945.0" y1="88" x2="1945.0" y2="224.7" stroke="#55585e" stroke-width="1"/><line x1="1948.2" y1="88" x2="1948.2" y2="224.9" stroke="#55585e" stroke-width="1"/><line x1="1951.5" y1="88" x2="1951.5" y2="225.2" stroke="#55585e" stroke-width="1"/><line x1="1954.8" y1="88" x2="1954.8" y2="225.4" stroke="#55585e" stroke-width="1"/><line x1="1958.0" y1="88" x2="1958.0" y2="225.6" stroke="#55585e" stroke-width="1"/><line x1="1961.2" y1="88" x2="1961.2" y2="225.8" stroke="#55585e" stroke-width="1"/><line x1="1885" y1="155" x2="1965" y2="156" stroke="#3a3c40" stroke-width="0.8"/><line x1="1885" y1="189" x2="1965" y2="190.5" stroke="#3a3c40" stroke-width="0.8"/><line x1="1919.0" y1="154" x2="1919.0" y2="223.1" stroke="#55585e" stroke-width="1"/><line x1="1922.2" y1="154" x2="1922.2" y2="223.3" stroke="#55585e" stroke-width="1"/><line x1="1925.5" y1="154" x2="1925.5" y2="223.5" stroke="#55585e" stroke-width="1"/><line x1="1928.8" y1="154" x2="1928.8" y2="223.7" stroke="#55585e" stroke-width="1"/><rect x="1917.2" y="88" width="12.7" height="66" fill="#2e3034"/><rect x="1919.5" y="92" width="8" height="7.5" rx="1" fill="#c8ccd2"/><text x="1920.3" y="98.5" font-size="6.5" fill="#30343a" font-family="Liberation Serif,serif" font-style="italic">hp</text><rect x="1918.5" y="101.5" width="10" height="1.2" fill="#8a8e96"/><rect x="1920.5" y="108" width="5.5" height="12" rx="2" fill="#1c1e22" stroke="#8a8e96" stroke-width="0.7"/><circle cx="1919.8" cy="132" r="1.6" fill="none" stroke="#aab" stroke-width="0.6"/><circle cx="1926.5" cy="132" r="1.6" fill="none" stroke="#aab" stroke-width="0.6"/><rect x="1919.5" y="137.5" width="8.5" height="3" fill="#c8ccd2"/><rect x="1919.5" y="143.5" width="8.5" height="3" fill="#c8ccd2"/></g>
<!-- red dotted rect -->
<g fill="#e31a2b"><rect x="471.75" y="802.25" width="5.9" height="5.9"/><rect x="495.37" y="802.25" width="5.9" height="5.9"/><rect x="518.99" y="802.25" width="5.9" height="5.9"/><rect x="542.61" y="802.25" width="5.9" height="5.9"/><rect x="566.23" y="802.25" width="5.9" height="5.9"/><rect x="589.85" y="802.25" width="5.9" height="5.9"/><rect x="613.47" y="802.25" width="5.9" height="5.9"/><rect x="637.09" y="802.25" width="5.9" height="5.9"/><rect x="660.71" y="802.25" width="5.9" height="5.9"/><rect x="684.33" y="802.25" width="5.9" height="5.9"/><rect x="707.95" y="802.25" width="5.9" height="5.9"/><rect x="731.57" y="802.25" width="5.9" height="5.9"/><rect x="755.19" y="802.25" width="5.9" height="5.9"/><rect x="778.81" y="802.25" width="5.9" height="5.9"/><rect x="802.43" y="802.25" width="5.9" height="5.9"/><rect x="826.05" y="802.25" width="5.9" height="5.9"/><rect x="849.67" y="802.25" width="5.9" height="5.9"/><rect x="873.29" y="802.25" width="5.9" height="5.9"/><rect x="896.91" y="802.25" width="5.9" height="5.9"/><rect x="920.53" y="802.25" width="5.9" height="5.9"/><rect x="944.15" y="802.25" width="5.9" height="5.9"/><rect x="967.77" y="802.25" width="5.9" height="5.9"/><rect x="991.39" y="802.25" width="5.9" height="5.9"/><rect x="1015.01" y="802.25" width="5.9" height="5.9"/><rect x="1038.63" y="802.25" width="5.9" height="5.9"/><rect x="1062.25" y="802.25" width="5.9" height="5.9"/><rect x="1085.87" y="802.25" width="5.9" height="5.9"/><rect x="1109.49" y="802.25" width="5.9" height="5.9"/><rect x="1133.11" y="802.25" width="5.9" height="5.9"/><rect x="1156.73" y="802.25" width="5.9" height="5.9"/><rect x="1180.35" y="802.25" width="5.9" height="5.9"/><rect x="1203.97" y="802.25" width="5.9" height="5.9"/><rect x="1227.59" y="802.25" width="5.9" height="5.9"/><rect x="1251.21" y="802.25" width="5.9" height="5.9"/><rect x="1274.83" y="802.25" width="5.9" height="5.9"/><rect x="1298.45" y="802.25" width="5.9" height="5.9"/><rect x="1322.07" y="802.25" width="5.9" height="5.9"/><rect x="1345.69" y="802.25" width="5.9" height="5.9"/><rect x="1369.31" y="802.25" width="5.9" height="5.9"/><rect x="1392.93" y="802.25" width="5.9" height="5.9"/><rect x="1416.55" y="802.25" width="5.9" height="5.9"/><rect x="1440.17" y="802.25" width="5.9" height="5.9"/><rect x="1463.79" y="802.25" width="5.9" height="5.9"/><rect x="1487.41" y="802.25" width="5.9" height="5.9"/><rect x="1511.03" y="802.25" width="5.9" height="5.9"/><rect x="1534.65" y="802.25" width="5.9" height="5.9"/><rect x="1558.27" y="802.25" width="5.9" height="5.9"/><rect x="1581.89" y="802.25" width="5.9" height="5.9"/><rect x="1605.51" y="802.25" width="5.9" height="5.9"/><rect x="1629.13" y="802.25" width="5.9" height="5.9"/><rect x="1652.75" y="802.25" width="5.9" height="5.9"/><rect x="1676.37" y="802.25" width="5.9" height="5.9"/><rect x="1699.99" y="802.25" width="5.9" height="5.9"/><rect x="479.05" y="1192.85" width="5.9" height="5.9"/><rect x="502.65" y="1192.85" width="5.9" height="5.9"/><rect x="526.25" y="1192.85" width="5.9" height="5.9"/><rect x="549.85" y="1192.85" width="5.9" height="5.9"/><rect x="573.45" y="1192.85" width="5.9" height="5.9"/><rect x="597.05" y="1192.85" width="5.9" height="5.9"/><rect x="620.65" y="1192.85" width="5.9" height="5.9"/><rect x="644.25" y="1192.85" width="5.9" height="5.9"/><rect x="667.85" y="1192.85" width="5.9" height="5.9"/><rect x="691.45" y="1192.85" width="5.9" height="5.9"/><rect x="715.05" y="1192.85" width="5.9" height="5.9"/><rect x="738.65" y="1192.85" width="5.9" height="5.9"/><rect x="762.25" y="1192.85" width="5.9" height="5.9"/><rect x="785.85" y="1192.85" width="5.9" height="5.9"/><rect x="809.45" y="1192.85" width="5.9" height="5.9"/><rect x="833.05" y="1192.85" width="5.9" height="5.9"/><rect x="856.65" y="1192.85" width="5.9" height="5.9"/><rect x="880.25" y="1192.85" width="5.9" height="5.9"/><rect x="903.85" y="1192.85" width="5.9" height="5.9"/><rect x="927.45" y="1192.85" width="5.9" height="5.9"/><rect x="951.05" y="1192.85" width="5.9" height="5.9"/><rect x="974.65" y="1192.85" width="5.9" height="5.9"/><rect x="998.25" y="1192.85" width="5.9" height="5.9"/><rect x="1021.85" y="1192.85" width="5.9" height="5.9"/><rect x="1045.45" y="1192.85" width="5.9" height="5.9"/><rect x="1069.05" y="1192.85" width="5.9" height="5.9"/><rect x="1092.65" y="1192.85" width="5.9" height="5.9"/><rect x="1116.25" y="1192.85" width="5.9" height="5.9"/><rect x="1139.85" y="1192.85" width="5.9" height="5.9"/><rect x="1163.45" y="1192.85" width="5.9" height="5.9"/><rect x="1187.05" y="1192.85" width="5.9" height="5.9"/><rect x="1210.65" y="1192.85" width="5.9" height="5.9"/><rect x="1234.25" y="1192.85" width="5.9" height="5.9"/><rect x="1257.85" y="1192.85" width="5.9" height="5.9"/><rect x="1281.45" y="1192.85" width="5.9" height="5.9"/><rect x="1305.05" y="1192.85" width="5.9" height="5.9"/><rect x="1328.65" y="1192.85" width="5.9" height="5.9"/><rect x="1352.25" y="1192.85" width="5.9" height="5.9"/><rect x="1375.85" y="1192.85" width="5.9" height="5.9"/><rect x="1399.45" y="1192.85" width="5.9" height="5.9"/><rect x="1423.05" y="1192.85" width="5.9" height="5.9"/><rect x="1446.65" y="1192.85" width="5.9" height="5.9"/><rect x="1470.25" y="1192.85" width="5.9" height="5.9"/><rect x="1493.85" y="1192.85" width="5.9" height="5.9"/><rect x="1517.45" y="1192.85" width="5.9" height="5.9"/><rect x="1541.05" y="1192.85" width="5.9" height="5.9"/><rect x="1564.65" y="1192.85" width="5.9" height="5.9"/><rect x="1588.25" y="1192.85" width="5.9" height="5.9"/><rect x="1611.85" y="1192.85" width="5.9" height="5.9"/><rect x="1635.45" y="1192.85" width="5.9" height="5.9"/><rect x="1659.05" y="1192.85" width="5.9" height="5.9"/><rect x="1682.65" y="1192.85" width="5.9" height="5.9"/><rect x="457.95" y="812.45" width="5.9" height="5.9"/><rect x="1703.05" y="810.85" width="5.9" height="5.9"/><rect x="457.95" y="836.05" width="5.9" height="5.9"/><rect x="1703.05" y="834.45" width="5.9" height="5.9"/><rect x="457.95" y="859.65" width="5.9" height="5.9"/><rect x="1703.05" y="858.05" width="5.9" height="5.9"/><rect x="457.95" y="883.25" width="5.9" height="5.9"/><rect x="1703.05" y="881.65" width="5.9" height="5.9"/><rect x="457.95" y="906.85" width="5.9" height="5.9"/><rect x="1703.05" y="905.25" width="5.9" height="5.9"/><rect x="457.95" y="930.45" width="5.9" height="5.9"/><rect x="1703.05" y="928.85" width="5.9" height="5.9"/><rect x="457.95" y="954.05" width="5.9" height="5.9"/><rect x="1703.05" y="952.45" width="5.9" height="5.9"/><rect x="457.95" y="977.65" width="5.9" height="5.9"/><rect x="1703.05" y="976.05" width="5.9" height="5.9"/><rect x="457.95" y="1001.25" width="5.9" height="5.9"/><rect x="1703.05" y="999.65" width="5.9" height="5.9"/><rect x="457.95" y="1024.85" width="5.9" height="5.9"/><rect x="1703.05" y="1023.25" width="5.9" height="5.9"/><rect x="457.95" y="1048.45" width="5.9" height="5.9"/><rect x="1703.05" y="1046.85" width="5.9" height="5.9"/><rect x="457.95" y="1072.05" width="5.9" height="5.9"/><rect x="1703.05" y="1070.45" width="5.9" height="5.9"/><rect x="457.95" y="1095.65" width="5.9" height="5.9"/><rect x="1703.05" y="1094.05" width="5.9" height="5.9"/><rect x="457.95" y="1119.25" width="5.9" height="5.9"/><rect x="1703.05" y="1117.65" width="5.9" height="5.9"/><rect x="457.95" y="1142.85" width="5.9" height="5.9"/><rect x="1703.05" y="1141.25" width="5.9" height="5.9"/><rect x="457.95" y="1166.45" width="5.9" height="5.9"/><rect x="1703.05" y="1164.85" width="5.9" height="5.9"/><rect x="457.95" y="1190.05" width="5.9" height="5.9"/><rect x="1703.05" y="1188.45" width="5.9" height="5.9"/></g>

<!-- turnstile -->
<g id="turnstile"><rect x="386.5" y="932.5" width="149.7" height="137" fill="#ffffff"/><ellipse cx="462" cy="1045" rx="62" ry="14" fill="#cfcfcf" filter="url(#blur3)"/><rect x="425" y="1015" width="60" height="20" fill="#c8c8c8" filter="url(#blur3)"/><rect x="431.8" y="954.7" width="19.4" height="66" fill="#7e7e7e"/><rect x="431.8" y="954.7" width="19.4" height="66" fill="url(#flapg)"/><rect x="459.6" y="954.7" width="14" height="65.5" fill="#828282"/><path d="M473.3,950 Q474,941 481,940.2 L506,940.2 L506,1058 Q500,1056 495,1050 L473.3,1030 Z" fill="url(#pillarR)"/><path d="M473.3,950 Q474,941 481,940.2 L515,940.2 Q528,941 530.5,958 L530.5,962 Q520,969 508,966 Q498,962 490,952 Q485,945 478,946 Z" fill="url(#capg)"/><path d="M473.3,950 Q474,941 481,940.2 L483,940.2 Q476,944 481,962 L481,1036 L473.3,1030 Z" fill="#4d545c"/><path d="M506,965.5 Q518,970 530.5,962 L530.5,1052 Q526,1060 518,1060 Q510,1060 506,1055 Z" fill="url(#cyl)"/><path d="M506,1054 Q518,1062 530.5,1052 L530.5,1055 Q518,1066 506,1057 Z" fill="#2a2a2a"/><path d="M505.5,952.1 L516.5,952.1 L520.3,960.8 L509.3,960.8 Z" fill="#1c1c20"/><rect x="510.6" y="982.8" width="11" height="10.3" fill="#0d2a22"/><path d="M519,985.3 L513,991 M513,986.5 L513,991 L517.5,991" stroke="#3fcf8f" stroke-width="1.6" fill="none"/><path d="M399.2,944 Q399.2,940 403,940 L424,940 Q428,942 430,955 L430,1054 Q424,1060 414.5,1060 Q405,1060 399.2,1054 Z" fill="url(#cyl)"/><path d="M399.2,944 Q399.2,940 403,940 L424,940 Q428,942 430,955 Q430,966 415,968 Q403,968 399.2,962 Z" fill="url(#capg)"/><path d="M399.2,1053 Q414,1062 430,1053 L430,1056 Q414,1066 399.2,1056 Z" fill="#2a2a2a"/><rect x="408.2" y="952.1" width="13.3" height="8.7" fill="#1c1c20"/><rect x="410" y="953.5" width="5" height="3" fill="#555"/><rect x="409.5" y="983.1" width="11" height="9.7" fill="#0d2a22"/><path d="M411.8,985.5 L418,991 M418,986.5 L418,991 L413.5,991" stroke="#3fcf8f" stroke-width="1.6" fill="none"/></g>
<!-- door -->
<g id="door"><rect x="1663.8" y="909.5" width="86.2" height="183.5" fill="#ffffff"/><rect x="1668.9" y="921.9" width="75.6" height="160.6" fill="#8f1a1e"/><rect x="1669.5" y="923" width="7" height="159" fill="#ad2026"/><rect x="1737" y="923" width="7" height="159" fill="#a32a30"/><rect x="1677.2" y="931" width="59.8" height="148" fill="#a81e22"/><rect x="1677.2" y="931" width="59.8" height="3" fill="#7e1014"/><rect x="1677.2" y="1076" width="59.8" height="3" fill="#8a1418"/><path d="M1688.6,1022.6 L1688.6,950 Q1706.7,938 1724.9,950 L1724.9,1022.6 Q1706.7,1012 1688.6,1022.6 Z" fill="#a41c20" stroke="#cf6444" stroke-width="0.9"/><ellipse cx="1706.7" cy="982" rx="10.5" ry="31" fill="#9e181c" stroke="#d26a44" stroke-width="0.9"/><path d="M1688.6,1028.6 Q1706.7,1024 1724.9,1028.6 L1724.9,1065.7 L1688.6,1065.7 Z" fill="#a41c20" stroke="#cf6444" stroke-width="0.9"/><rect x="1680.3" y="999.9" width="5.3" height="17.4" rx="1" fill="#e8e8e8"/><rect x="1681" y="1005.6" width="12.9" height="2.2" rx="1" fill="#f2f2f2"/><circle cx="1683" cy="1012.5" r="1.2" fill="#555"/></g>
<!-- card readers -->
<g transform="translate(237,976.8)"><rect width="72" height="70.4" rx="3" fill="#000"/><path d="M3,0 L25,0 L13.6,70.4 L3,70.4 Q0,70.4 0,67.4 L0,3 Q0,0 3,0 Z" fill="#222"/><rect x="14.7" y="6.4" width="42.4" height="3.6" fill="#fff"/></g><g transform="translate(610.1,976.9)"><rect width="72" height="70.4" rx="3" fill="#000"/><path d="M3,0 L25,0 L13.6,70.4 L3,70.4 Q0,70.4 0,67.4 L0,3 Q0,0 3,0 Z" fill="#222"/><rect x="14.7" y="6.4" width="42.4" height="3.6" fill="#fff"/></g><g transform="translate(1484,977)"><rect width="72" height="70.4" rx="3" fill="#000"/><path d="M3,0 L25,0 L13.6,70.4 L3,70.4 Q0,70.4 0,67.4 L0,3 Q0,0 3,0 Z" fill="#222"/><rect x="14.7" y="6.4" width="42.4" height="3.6" fill="#fff"/></g><g transform="translate(1855.8,977)"><rect width="72" height="70.4" rx="3" fill="#000"/><path d="M3,0 L25,0 L13.6,70.4 L3,70.4 Q0,70.4 0,67.4 L0,3 Q0,0 3,0 Z" fill="#222"/><rect x="14.7" y="6.4" width="42.4" height="3.6" fill="#fff"/></g>
<!-- red dots -->
<g fill="#e42229">
  <circle cx="1715.2" cy="103.9" r="7"/>
  <circle cx="1737.1" cy="103.9" r="7"/>
  <circle cx="1779.9" cy="103.9" r="7"/>
</g>

<!-- red labels -->
<rect x="938.9" y="713.3" width="289.1" height="58.9" fill="#e42229"/>
<rect x="905" y="1227.3" width="356.8" height="58.7" fill="#e42229"/>

</svg>

<div class="t" style="left:93px;top:72.8px;font-size:43px;letter-spacing:3px;">Internet</div>

<div class="t lb" style="left:353px;top:240.3px;letter-spacing:0.7px;">平台工作站</div>
<div class="t lb" style="left:716px;top:240.3px;letter-spacing:0.3px;">设备工作站</div>
<div class="t lb" style="left:1077px;top:240.3px;letter-spacing:0.2px;">卡片工作站</div>
<div class="t lb" style="left:1437.5px;top:240.3px;letter-spacing:0.65px;">报警工作站</div>
<div class="t lb" style="left:1889px;top:240.6px;letter-spacing:2.2px;">服务器</div>

<div class="t" style="left:878.5px;top:309px;font-size:43px;letter-spacing:0.35px;">TCP/IP局域网（LAN)</div>

<div class="t tcp" style="left:489.5px;top:393.8px;">TCP/IP</div>
<div class="t tcp" style="left:1106.5px;top:393.8px;letter-spacing:0.5px;">TCP/IP</div>
<div class="t tcp" style="left:1727px;top:393.8px;letter-spacing:0.6px;">TCP/IP</div>

<div class="t lb" style="left:306.8px;top:723.2px;letter-spacing:1.1px;">以太网单门门禁</div>
<div class="t lb" style="left:1552.3px;top:723.5px;letter-spacing:1.05px;">以太网单门门禁</div>
<div class="t lb" style="left:975px;top:720px;letter-spacing:1.1px;color:#fff;">数据服务器</div>

<div class="t red" style="left:79px;top:873.6px;">外部区域</div>
<div class="t red" style="left:951px;top:875px;">内部区域</div>
<div class="t red" style="left:1876.5px;top:873.6px;">外部区域</div>

<div class="t lb" style="left:167.7px;top:1102px;letter-spacing:0.85px;">外部读卡器</div>
<div class="t lb" style="left:538px;top:1102.8px;letter-spacing:0.8px;">内部读卡器</div>
<div class="t lb" style="left:1410px;top:1103.2px;letter-spacing:0.8px;">内部读卡器</div>
<div class="t lb" style="left:1784.6px;top:1103.2px;letter-spacing:0.6px;">外部读卡器</div>

<div class="t lb" style="left:930px;top:1237.5px;letter-spacing:0.95px;color:#fff8f0;">以太网门禁系统</div>
</body></html>
